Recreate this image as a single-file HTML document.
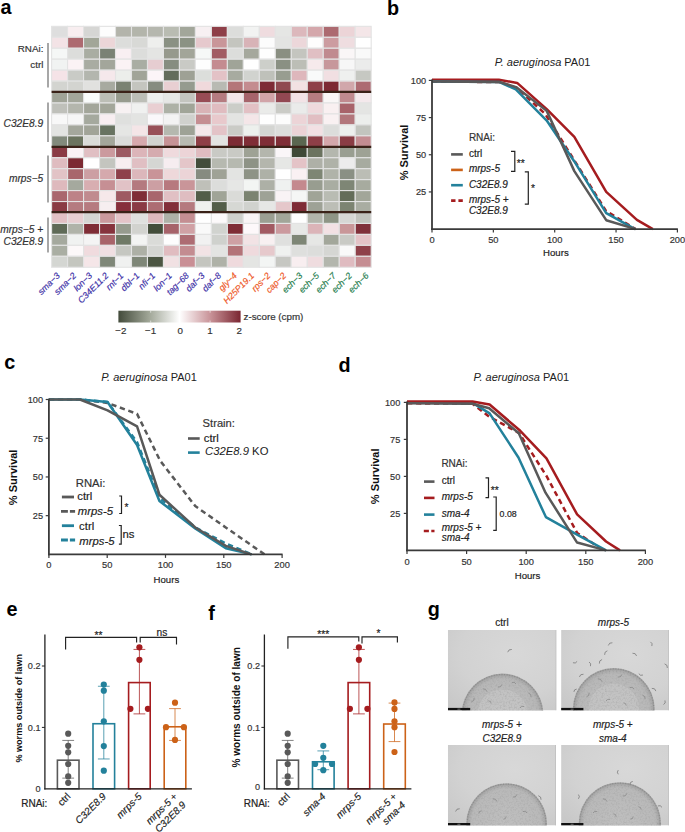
<!DOCTYPE html>
<html><head><meta charset="utf-8"><style>
html,body{margin:0;padding:0;background:#fff;}
svg{display:block;font-family:"Liberation Sans", sans-serif;}
</style></head><body>
<svg width="685" height="832" viewBox="0 0 685 832">
<rect width="685" height="832" fill="#fff"/>
<text x="0.50" y="13.65" font-size="19.8" text-anchor="start" font-weight="bold" fill="#000">a</text>
<text x="386.96" y="14.55" font-size="19.8" text-anchor="start" font-weight="bold" fill="#000">b</text>
<text x="4.35" y="368.90" font-size="19.8" text-anchor="start" font-weight="bold" fill="#000">c</text>
<text x="338.40" y="372.45" font-size="19.8" text-anchor="start" font-weight="bold" fill="#000">d</text>
<text x="6.55" y="616.10" font-size="19.8" text-anchor="start" font-weight="bold" fill="#000">e</text>
<text x="208.15" y="619.75" font-size="19.8" text-anchor="start" font-weight="bold" fill="#000">f</text>
<text x="427.66" y="616.00" font-size="19.8" text-anchor="start" font-weight="bold" fill="#000">g</text>
<g stroke="#e3e3e3" stroke-width="1.1">
<rect x="51.60" y="26.35" width="15.98" height="10.95" fill="#dedede"/>
<rect x="67.58" y="26.35" width="15.98" height="10.95" fill="#f8eef0"/>
<rect x="83.56" y="26.35" width="15.98" height="10.95" fill="#d6d6d4"/>
<rect x="99.54" y="26.35" width="15.98" height="10.95" fill="#fdfdfd"/>
<rect x="115.52" y="26.35" width="15.98" height="10.95" fill="#b3b4ab"/>
<rect x="131.50" y="26.35" width="15.98" height="10.95" fill="#b3b5ab"/>
<rect x="147.48" y="26.35" width="15.98" height="10.95" fill="#b5b7ae"/>
<rect x="163.46" y="26.35" width="15.98" height="10.95" fill="#b9bcb2"/>
<rect x="179.44" y="26.35" width="15.98" height="10.95" fill="#a2a69a"/>
<rect x="195.42" y="26.35" width="15.98" height="10.95" fill="#f7f0f2"/>
<rect x="211.40" y="26.35" width="15.98" height="10.95" fill="#8e3f48"/>
<rect x="227.38" y="26.35" width="15.98" height="10.95" fill="#dcdddb"/>
<rect x="243.36" y="26.35" width="15.98" height="10.95" fill="#f2f3f2"/>
<rect x="259.34" y="26.35" width="15.98" height="10.95" fill="#efdcdf"/>
<rect x="275.32" y="26.35" width="15.98" height="10.95" fill="#e5e6e4"/>
<rect x="291.30" y="26.35" width="15.98" height="10.95" fill="#dcb8bc"/>
<rect x="307.28" y="26.35" width="15.98" height="10.95" fill="#d4a7ab"/>
<rect x="323.26" y="26.35" width="15.98" height="10.95" fill="#ac6a70"/>
<rect x="339.24" y="26.35" width="15.98" height="10.95" fill="#ecd4d7"/>
<rect x="355.22" y="26.35" width="15.98" height="10.95" fill="#f4e6e8"/>
<rect x="51.60" y="37.30" width="15.98" height="10.95" fill="#f3e3e6"/>
<rect x="67.58" y="37.30" width="15.98" height="10.95" fill="#ad6a70"/>
<rect x="83.56" y="37.30" width="15.98" height="10.95" fill="#a2a698"/>
<rect x="99.54" y="37.30" width="15.98" height="10.95" fill="#ecd6d8"/>
<rect x="115.52" y="37.30" width="15.98" height="10.95" fill="#dcdddb"/>
<rect x="131.50" y="37.30" width="15.98" height="10.95" fill="#d8d9d6"/>
<rect x="147.48" y="37.30" width="15.98" height="10.95" fill="#eeefed"/>
<rect x="163.46" y="37.30" width="15.98" height="10.95" fill="#8a9183"/>
<rect x="179.44" y="37.30" width="15.98" height="10.95" fill="#8b9284"/>
<rect x="195.42" y="37.30" width="15.98" height="10.95" fill="#e6c9cd"/>
<rect x="211.40" y="37.30" width="15.98" height="10.95" fill="#c99699"/>
<rect x="227.38" y="37.30" width="15.98" height="10.95" fill="#c4c5bf"/>
<rect x="243.36" y="37.30" width="15.98" height="10.95" fill="#d8b3b7"/>
<rect x="259.34" y="37.30" width="15.98" height="10.95" fill="#fcfcfc"/>
<rect x="275.32" y="37.30" width="15.98" height="10.95" fill="#e3e4e2"/>
<rect x="291.30" y="37.30" width="15.98" height="10.95" fill="#ecd7da"/>
<rect x="307.28" y="37.30" width="15.98" height="10.95" fill="#fefdfd"/>
<rect x="323.26" y="37.30" width="15.98" height="10.95" fill="#cc9ca0"/>
<rect x="339.24" y="37.30" width="15.98" height="10.95" fill="#efdde0"/>
<rect x="355.22" y="37.30" width="15.98" height="10.95" fill="#ffffff"/>
<rect x="51.60" y="48.25" width="15.98" height="10.95" fill="#f5f7f6"/>
<rect x="67.58" y="48.25" width="15.98" height="10.95" fill="#dcdddb"/>
<rect x="83.56" y="48.25" width="15.98" height="10.95" fill="#a9ada2"/>
<rect x="99.54" y="48.25" width="15.98" height="10.95" fill="#7a8274"/>
<rect x="115.52" y="48.25" width="15.98" height="10.95" fill="#f8eff2"/>
<rect x="131.50" y="48.25" width="15.98" height="10.95" fill="#dcdddb"/>
<rect x="147.48" y="48.25" width="15.98" height="10.95" fill="#e4e5e3"/>
<rect x="163.46" y="48.25" width="15.98" height="10.95" fill="#96998c"/>
<rect x="179.44" y="48.25" width="15.98" height="10.95" fill="#a2a599"/>
<rect x="195.42" y="48.25" width="15.98" height="10.95" fill="#f6f8f7"/>
<rect x="211.40" y="48.25" width="15.98" height="10.95" fill="#a25c63"/>
<rect x="227.38" y="48.25" width="15.98" height="10.95" fill="#dcdddb"/>
<rect x="243.36" y="48.25" width="15.98" height="10.95" fill="#a5a89d"/>
<rect x="259.34" y="48.25" width="15.98" height="10.95" fill="#fefefe"/>
<rect x="275.32" y="48.25" width="15.98" height="10.95" fill="#8a8f82"/>
<rect x="291.30" y="48.25" width="15.98" height="10.95" fill="#c4c5bf"/>
<rect x="307.28" y="48.25" width="15.98" height="10.95" fill="#e0bfc3"/>
<rect x="323.26" y="48.25" width="15.98" height="10.95" fill="#c08a8f"/>
<rect x="339.24" y="48.25" width="15.98" height="10.95" fill="#faf6f7"/>
<rect x="355.22" y="48.25" width="15.98" height="10.95" fill="#f9f9f9"/>
<rect x="51.60" y="59.20" width="15.98" height="10.95" fill="#f1f3f2"/>
<rect x="67.58" y="59.20" width="15.98" height="10.95" fill="#fbf3f5"/>
<rect x="83.56" y="59.20" width="15.98" height="10.95" fill="#a9aca2"/>
<rect x="99.54" y="59.20" width="15.98" height="10.95" fill="#a3a69b"/>
<rect x="115.52" y="59.20" width="15.98" height="10.95" fill="#fbf3f5"/>
<rect x="131.50" y="59.20" width="15.98" height="10.95" fill="#a9ada3"/>
<rect x="147.48" y="59.20" width="15.98" height="10.95" fill="#e6cdd1"/>
<rect x="163.46" y="59.20" width="15.98" height="10.95" fill="#868d80"/>
<rect x="179.44" y="59.20" width="15.98" height="10.95" fill="#c9cac5"/>
<rect x="195.42" y="59.20" width="15.98" height="10.95" fill="#fefefe"/>
<rect x="211.40" y="59.20" width="15.98" height="10.95" fill="#c48b90"/>
<rect x="227.38" y="59.20" width="15.98" height="10.95" fill="#a0a498"/>
<rect x="243.36" y="59.20" width="15.98" height="10.95" fill="#ffffff"/>
<rect x="259.34" y="59.20" width="15.98" height="10.95" fill="#cdcfca"/>
<rect x="275.32" y="59.20" width="15.98" height="10.95" fill="#8a9083"/>
<rect x="291.30" y="59.20" width="15.98" height="10.95" fill="#bcbeb6"/>
<rect x="307.28" y="59.20" width="15.98" height="10.95" fill="#f6eaec"/>
<rect x="323.26" y="59.20" width="15.98" height="10.95" fill="#c7979b"/>
<rect x="339.24" y="59.20" width="15.98" height="10.95" fill="#f7f7f7"/>
<rect x="355.22" y="59.20" width="15.98" height="10.95" fill="#ebeceb"/>
<rect x="51.60" y="70.15" width="15.98" height="10.95" fill="#f5e3e7"/>
<rect x="67.58" y="70.15" width="15.98" height="10.95" fill="#c9cbc6"/>
<rect x="83.56" y="70.15" width="15.98" height="10.95" fill="#b3b6ae"/>
<rect x="99.54" y="70.15" width="15.98" height="10.95" fill="#f5e8eb"/>
<rect x="115.52" y="70.15" width="15.98" height="10.95" fill="#eceeeb"/>
<rect x="131.50" y="70.15" width="15.98" height="10.95" fill="#a1a498"/>
<rect x="147.48" y="70.15" width="15.98" height="10.95" fill="#fcf5f8"/>
<rect x="163.46" y="70.15" width="15.98" height="10.95" fill="#636c5b"/>
<rect x="179.44" y="70.15" width="15.98" height="10.95" fill="#9ea195"/>
<rect x="195.42" y="70.15" width="15.98" height="10.95" fill="#dcdedb"/>
<rect x="211.40" y="70.15" width="15.98" height="10.95" fill="#e3c2c6"/>
<rect x="227.38" y="70.15" width="15.98" height="10.95" fill="#a7aba0"/>
<rect x="243.36" y="70.15" width="15.98" height="10.95" fill="#d1d3cf"/>
<rect x="259.34" y="70.15" width="15.98" height="10.95" fill="#bfc1ba"/>
<rect x="275.32" y="70.15" width="15.98" height="10.95" fill="#989d90"/>
<rect x="291.30" y="70.15" width="15.98" height="10.95" fill="#deb7bc"/>
<rect x="307.28" y="70.15" width="15.98" height="10.95" fill="#f9fafa"/>
<rect x="323.26" y="70.15" width="15.98" height="10.95" fill="#f1dfe2"/>
<rect x="339.24" y="70.15" width="15.98" height="10.95" fill="#eff0ef"/>
<rect x="355.22" y="70.15" width="15.98" height="10.95" fill="#c6c8c2"/>
<rect x="51.60" y="81.10" width="15.98" height="10.95" fill="#d3d4d0"/>
<rect x="67.58" y="81.10" width="15.98" height="10.95" fill="#d3d4d0"/>
<rect x="83.56" y="81.10" width="15.98" height="10.95" fill="#e1e1df"/>
<rect x="99.54" y="81.10" width="15.98" height="10.95" fill="#a7aaa0"/>
<rect x="115.52" y="81.10" width="15.98" height="10.95" fill="#7b8273"/>
<rect x="131.50" y="81.10" width="15.98" height="10.95" fill="#c4c5bf"/>
<rect x="147.48" y="81.10" width="15.98" height="10.95" fill="#868c80"/>
<rect x="163.46" y="81.10" width="15.98" height="10.95" fill="#e8cfd2"/>
<rect x="179.44" y="81.10" width="15.98" height="10.95" fill="#959b8f"/>
<rect x="195.42" y="81.10" width="15.98" height="10.95" fill="#f0d9dc"/>
<rect x="211.40" y="81.10" width="15.98" height="10.95" fill="#b8bab3"/>
<rect x="227.38" y="81.10" width="15.98" height="10.95" fill="#b47679"/>
<rect x="243.36" y="81.10" width="15.98" height="10.95" fill="#c48c90"/>
<rect x="259.34" y="81.10" width="15.98" height="10.95" fill="#7e2b36"/>
<rect x="275.32" y="81.10" width="15.98" height="10.95" fill="#904a51"/>
<rect x="291.30" y="81.10" width="15.98" height="10.95" fill="#f2e1e3"/>
<rect x="307.28" y="81.10" width="15.98" height="10.95" fill="#8e3f47"/>
<rect x="323.26" y="81.10" width="15.98" height="10.95" fill="#7c2a33"/>
<rect x="339.24" y="81.10" width="15.98" height="10.95" fill="#d1a7ab"/>
<rect x="355.22" y="81.10" width="15.98" height="10.95" fill="#ad6b72"/>
<rect x="51.60" y="92.05" width="15.98" height="10.95" fill="#a0a397"/>
<rect x="67.58" y="92.05" width="15.98" height="10.95" fill="#a3a69a"/>
<rect x="83.56" y="92.05" width="15.98" height="10.95" fill="#fafcfb"/>
<rect x="99.54" y="92.05" width="15.98" height="10.95" fill="#bcbeb6"/>
<rect x="115.52" y="92.05" width="15.98" height="10.95" fill="#979b8e"/>
<rect x="131.50" y="92.05" width="15.98" height="10.95" fill="#bcbeb7"/>
<rect x="147.48" y="92.05" width="15.98" height="10.95" fill="#eeefee"/>
<rect x="163.46" y="92.05" width="15.98" height="10.95" fill="#e6e7e5"/>
<rect x="179.44" y="92.05" width="15.98" height="10.95" fill="#c4c5bf"/>
<rect x="195.42" y="92.05" width="15.98" height="10.95" fill="#984c55"/>
<rect x="211.40" y="92.05" width="15.98" height="10.95" fill="#b57b80"/>
<rect x="227.38" y="92.05" width="15.98" height="10.95" fill="#f3e7e9"/>
<rect x="243.36" y="92.05" width="15.98" height="10.95" fill="#a6646b"/>
<rect x="259.34" y="92.05" width="15.98" height="10.95" fill="#d1a4a8"/>
<rect x="275.32" y="92.05" width="15.98" height="10.95" fill="#924852"/>
<rect x="291.30" y="92.05" width="15.98" height="10.95" fill="#f2e3e6"/>
<rect x="307.28" y="92.05" width="15.98" height="10.95" fill="#b57c80"/>
<rect x="323.26" y="92.05" width="15.98" height="10.95" fill="#faf7f7"/>
<rect x="339.24" y="92.05" width="15.98" height="10.95" fill="#c08a8f"/>
<rect x="355.22" y="92.05" width="15.98" height="10.95" fill="#f4e9ec"/>
<rect x="51.60" y="103.00" width="15.98" height="10.95" fill="#bfc0ba"/>
<rect x="67.58" y="103.00" width="15.98" height="10.95" fill="#b4b6ad"/>
<rect x="83.56" y="103.00" width="15.98" height="10.95" fill="#a3a69a"/>
<rect x="99.54" y="103.00" width="15.98" height="10.95" fill="#a3a69a"/>
<rect x="115.52" y="103.00" width="15.98" height="10.95" fill="#f7f1f2"/>
<rect x="131.50" y="103.00" width="15.98" height="10.95" fill="#f0f1f0"/>
<rect x="147.48" y="103.00" width="15.98" height="10.95" fill="#e9cfd2"/>
<rect x="163.46" y="103.00" width="15.98" height="10.95" fill="#adb1a6"/>
<rect x="179.44" y="103.00" width="15.98" height="10.95" fill="#a1a598"/>
<rect x="195.42" y="103.00" width="15.98" height="10.95" fill="#d9b3b6"/>
<rect x="211.40" y="103.00" width="15.98" height="10.95" fill="#e0bcc0"/>
<rect x="227.38" y="103.00" width="15.98" height="10.95" fill="#cbcdc8"/>
<rect x="243.36" y="103.00" width="15.98" height="10.95" fill="#e2c0c4"/>
<rect x="259.34" y="103.00" width="15.98" height="10.95" fill="#eaebe9"/>
<rect x="275.32" y="103.00" width="15.98" height="10.95" fill="#cacbc6"/>
<rect x="291.30" y="103.00" width="15.98" height="10.95" fill="#eaebea"/>
<rect x="307.28" y="103.00" width="15.98" height="10.95" fill="#efd9dc"/>
<rect x="323.26" y="103.00" width="15.98" height="10.95" fill="#f9f0f1"/>
<rect x="339.24" y="103.00" width="15.98" height="10.95" fill="#a8636a"/>
<rect x="355.22" y="103.00" width="15.98" height="10.95" fill="#e4e5e3"/>
<rect x="51.60" y="113.95" width="15.98" height="10.95" fill="#f8f8f8"/>
<rect x="67.58" y="113.95" width="15.98" height="10.95" fill="#f6f6f6"/>
<rect x="83.56" y="113.95" width="15.98" height="10.95" fill="#a5a99e"/>
<rect x="99.54" y="113.95" width="15.98" height="10.95" fill="#f8eef1"/>
<rect x="115.52" y="113.95" width="15.98" height="10.95" fill="#dfe0de"/>
<rect x="131.50" y="113.95" width="15.98" height="10.95" fill="#e3e4e2"/>
<rect x="147.48" y="113.95" width="15.98" height="10.95" fill="#faf8fa"/>
<rect x="163.46" y="113.95" width="15.98" height="10.95" fill="#f3f3f3"/>
<rect x="179.44" y="113.95" width="15.98" height="10.95" fill="#d0d1cd"/>
<rect x="195.42" y="113.95" width="15.98" height="10.95" fill="#c58e92"/>
<rect x="211.40" y="113.95" width="15.98" height="10.95" fill="#e8c9cc"/>
<rect x="227.38" y="113.95" width="15.98" height="10.95" fill="#e3e4e2"/>
<rect x="243.36" y="113.95" width="15.98" height="10.95" fill="#f4e6e8"/>
<rect x="259.34" y="113.95" width="15.98" height="10.95" fill="#fefefe"/>
<rect x="275.32" y="113.95" width="15.98" height="10.95" fill="#fcfcfc"/>
<rect x="291.30" y="113.95" width="15.98" height="10.95" fill="#ecd4d7"/>
<rect x="307.28" y="113.95" width="15.98" height="10.95" fill="#e1bec2"/>
<rect x="323.26" y="113.95" width="15.98" height="10.95" fill="#f9f1f2"/>
<rect x="339.24" y="113.95" width="15.98" height="10.95" fill="#b2767b"/>
<rect x="355.22" y="113.95" width="15.98" height="10.95" fill="#eceeec"/>
<rect x="51.60" y="124.90" width="15.98" height="10.95" fill="#e3e4e2"/>
<rect x="67.58" y="124.90" width="15.98" height="10.95" fill="#a4a79c"/>
<rect x="83.56" y="124.90" width="15.98" height="10.95" fill="#a1a498"/>
<rect x="99.54" y="124.90" width="15.98" height="10.95" fill="#687361"/>
<rect x="115.52" y="124.90" width="15.98" height="10.95" fill="#e5e6e4"/>
<rect x="131.50" y="124.90" width="15.98" height="10.95" fill="#f4e5e7"/>
<rect x="147.48" y="124.90" width="15.98" height="10.95" fill="#985058"/>
<rect x="163.46" y="124.90" width="15.98" height="10.95" fill="#b5b8af"/>
<rect x="179.44" y="124.90" width="15.98" height="10.95" fill="#9ea296"/>
<rect x="195.42" y="124.90" width="15.98" height="10.95" fill="#f5e8ea"/>
<rect x="211.40" y="124.90" width="15.98" height="10.95" fill="#e3c3c7"/>
<rect x="227.38" y="124.90" width="15.98" height="10.95" fill="#cacbc6"/>
<rect x="243.36" y="124.90" width="15.98" height="10.95" fill="#edf0ed"/>
<rect x="259.34" y="124.90" width="15.98" height="10.95" fill="#d4d5d2"/>
<rect x="275.32" y="124.90" width="15.98" height="10.95" fill="#dcdddb"/>
<rect x="291.30" y="124.90" width="15.98" height="10.95" fill="#ebd3d6"/>
<rect x="307.28" y="124.90" width="15.98" height="10.95" fill="#f2e0e3"/>
<rect x="323.26" y="124.90" width="15.98" height="10.95" fill="#dcdddb"/>
<rect x="339.24" y="124.90" width="15.98" height="10.95" fill="#edefed"/>
<rect x="355.22" y="124.90" width="15.98" height="10.95" fill="#c2c4be"/>
<rect x="51.60" y="135.85" width="15.98" height="10.95" fill="#828a7c"/>
<rect x="67.58" y="135.85" width="15.98" height="10.95" fill="#6b745f"/>
<rect x="83.56" y="135.85" width="15.98" height="10.95" fill="#dadcd8"/>
<rect x="99.54" y="135.85" width="15.98" height="10.95" fill="#a3a69a"/>
<rect x="115.52" y="135.85" width="15.98" height="10.95" fill="#dbdcda"/>
<rect x="131.50" y="135.85" width="15.98" height="10.95" fill="#d6a9ad"/>
<rect x="147.48" y="135.85" width="15.98" height="10.95" fill="#d1d3cf"/>
<rect x="163.46" y="135.85" width="15.98" height="10.95" fill="#c69396"/>
<rect x="179.44" y="135.85" width="15.98" height="10.95" fill="#b8bab1"/>
<rect x="195.42" y="135.85" width="15.98" height="10.95" fill="#8e3f46"/>
<rect x="211.40" y="135.85" width="15.98" height="10.95" fill="#e3e4e2"/>
<rect x="227.38" y="135.85" width="15.98" height="10.95" fill="#7c2b34"/>
<rect x="243.36" y="135.85" width="15.98" height="10.95" fill="#7f2d36"/>
<rect x="259.34" y="135.85" width="15.98" height="10.95" fill="#7f2d36"/>
<rect x="275.32" y="135.85" width="15.98" height="10.95" fill="#7f2d36"/>
<rect x="291.30" y="135.85" width="15.98" height="10.95" fill="#5a6650"/>
<rect x="307.28" y="135.85" width="15.98" height="10.95" fill="#8e3f47"/>
<rect x="323.26" y="135.85" width="15.98" height="10.95" fill="#d4a7ab"/>
<rect x="339.24" y="135.85" width="15.98" height="10.95" fill="#8a3c44"/>
<rect x="355.22" y="135.85" width="15.98" height="10.95" fill="#c38c91"/>
<rect x="51.60" y="146.80" width="15.98" height="10.95" fill="#8a3a44"/>
<rect x="67.58" y="146.80" width="15.98" height="10.95" fill="#faf2f5"/>
<rect x="83.56" y="146.80" width="15.98" height="10.95" fill="#e0bfc3"/>
<rect x="99.54" y="146.80" width="15.98" height="10.95" fill="#cb9a9e"/>
<rect x="115.52" y="146.80" width="15.98" height="10.95" fill="#9c5a62"/>
<rect x="131.50" y="146.80" width="15.98" height="10.95" fill="#dcb5b9"/>
<rect x="147.48" y="146.80" width="15.98" height="10.95" fill="#d5abaf"/>
<rect x="163.46" y="146.80" width="15.98" height="10.95" fill="#efdadd"/>
<rect x="179.44" y="146.80" width="15.98" height="10.95" fill="#ecd4d7"/>
<rect x="195.42" y="146.80" width="15.98" height="10.95" fill="#dfbcc0"/>
<rect x="211.40" y="146.80" width="15.98" height="10.95" fill="#c9cac5"/>
<rect x="227.38" y="146.80" width="15.98" height="10.95" fill="#c9cac5"/>
<rect x="243.36" y="146.80" width="15.98" height="10.95" fill="#9ea295"/>
<rect x="259.34" y="146.80" width="15.98" height="10.95" fill="#b4b6ad"/>
<rect x="275.32" y="146.80" width="15.98" height="10.95" fill="#faf6f8"/>
<rect x="291.30" y="146.80" width="15.98" height="10.95" fill="#3f4937"/>
<rect x="307.28" y="146.80" width="15.98" height="10.95" fill="#6b735f"/>
<rect x="323.26" y="146.80" width="15.98" height="10.95" fill="#b4b7ae"/>
<rect x="339.24" y="146.80" width="15.98" height="10.95" fill="#999e91"/>
<rect x="355.22" y="146.80" width="15.98" height="10.95" fill="#9ea295"/>
<rect x="51.60" y="157.75" width="15.98" height="10.95" fill="#dfbcc0"/>
<rect x="67.58" y="157.75" width="15.98" height="10.95" fill="#7c2a33"/>
<rect x="83.56" y="157.75" width="15.98" height="10.95" fill="#ffffff"/>
<rect x="99.54" y="157.75" width="15.98" height="10.95" fill="#c4c5bf"/>
<rect x="115.52" y="157.75" width="15.98" height="10.95" fill="#f8eef0"/>
<rect x="131.50" y="157.75" width="15.98" height="10.95" fill="#e0bfc3"/>
<rect x="147.48" y="157.75" width="15.98" height="10.95" fill="#d5d6d3"/>
<rect x="163.46" y="157.75" width="15.98" height="10.95" fill="#f6edf0"/>
<rect x="179.44" y="157.75" width="15.98" height="10.95" fill="#e4c6c9"/>
<rect x="195.42" y="157.75" width="15.98" height="10.95" fill="#434d3b"/>
<rect x="211.40" y="157.75" width="15.98" height="10.95" fill="#b6b9b0"/>
<rect x="227.38" y="157.75" width="15.98" height="10.95" fill="#b6b9b0"/>
<rect x="243.36" y="157.75" width="15.98" height="10.95" fill="#8e9386"/>
<rect x="259.34" y="157.75" width="15.98" height="10.95" fill="#b4b6ad"/>
<rect x="275.32" y="157.75" width="15.98" height="10.95" fill="#e6e7e5"/>
<rect x="291.30" y="157.75" width="15.98" height="10.95" fill="#e4c3c7"/>
<rect x="307.28" y="157.75" width="15.98" height="10.95" fill="#aeb0a7"/>
<rect x="323.26" y="157.75" width="15.98" height="10.95" fill="#afb2a8"/>
<rect x="339.24" y="157.75" width="15.98" height="10.95" fill="#ececec"/>
<rect x="355.22" y="157.75" width="15.98" height="10.95" fill="#a7aba0"/>
<rect x="51.60" y="168.70" width="15.98" height="10.95" fill="#e2c3c6"/>
<rect x="67.58" y="168.70" width="15.98" height="10.95" fill="#a8666c"/>
<rect x="83.56" y="168.70" width="15.98" height="10.95" fill="#cc9fa3"/>
<rect x="99.54" y="168.70" width="15.98" height="10.95" fill="#d5a9ad"/>
<rect x="115.52" y="168.70" width="15.98" height="10.95" fill="#8e404a"/>
<rect x="131.50" y="168.70" width="15.98" height="10.95" fill="#dcb7bb"/>
<rect x="147.48" y="168.70" width="15.98" height="10.95" fill="#c99498"/>
<rect x="163.46" y="168.70" width="15.98" height="10.95" fill="#eed8da"/>
<rect x="179.44" y="168.70" width="15.98" height="10.95" fill="#ecd4d7"/>
<rect x="195.42" y="168.70" width="15.98" height="10.95" fill="#868b80"/>
<rect x="211.40" y="168.70" width="15.98" height="10.95" fill="#9fa296"/>
<rect x="227.38" y="168.70" width="15.98" height="10.95" fill="#e3e4e2"/>
<rect x="243.36" y="168.70" width="15.98" height="10.95" fill="#8e9386"/>
<rect x="259.34" y="168.70" width="15.98" height="10.95" fill="#aeb1a7"/>
<rect x="275.32" y="168.70" width="15.98" height="10.95" fill="#ffffff"/>
<rect x="291.30" y="168.70" width="15.98" height="10.95" fill="#faf1f3"/>
<rect x="307.28" y="168.70" width="15.98" height="10.95" fill="#7e8674"/>
<rect x="323.26" y="168.70" width="15.98" height="10.95" fill="#b0b3a9"/>
<rect x="339.24" y="168.70" width="15.98" height="10.95" fill="#8a9084"/>
<rect x="355.22" y="168.70" width="15.98" height="10.95" fill="#bbbdb5"/>
<rect x="51.60" y="179.65" width="15.98" height="10.95" fill="#deb9bd"/>
<rect x="67.58" y="179.65" width="15.98" height="10.95" fill="#a5a99e"/>
<rect x="83.56" y="179.65" width="15.98" height="10.95" fill="#d8aeb1"/>
<rect x="99.54" y="179.65" width="15.98" height="10.95" fill="#c68f94"/>
<rect x="115.52" y="179.65" width="15.98" height="10.95" fill="#e1c2c6"/>
<rect x="131.50" y="179.65" width="15.98" height="10.95" fill="#b47a7f"/>
<rect x="147.48" y="179.65" width="15.98" height="10.95" fill="#cc9fa3"/>
<rect x="163.46" y="179.65" width="15.98" height="10.95" fill="#b7797e"/>
<rect x="179.44" y="179.65" width="15.98" height="10.95" fill="#c99599"/>
<rect x="195.42" y="179.65" width="15.98" height="10.95" fill="#bfc0b9"/>
<rect x="211.40" y="179.65" width="15.98" height="10.95" fill="#dcdddb"/>
<rect x="227.38" y="179.65" width="15.98" height="10.95" fill="#e6e7e5"/>
<rect x="243.36" y="179.65" width="15.98" height="10.95" fill="#f3f5f3"/>
<rect x="259.34" y="179.65" width="15.98" height="10.95" fill="#adb0a6"/>
<rect x="275.32" y="179.65" width="15.98" height="10.95" fill="#eff1f0"/>
<rect x="291.30" y="179.65" width="15.98" height="10.95" fill="#c4898e"/>
<rect x="307.28" y="179.65" width="15.98" height="10.95" fill="#989d90"/>
<rect x="323.26" y="179.65" width="15.98" height="10.95" fill="#a9ada2"/>
<rect x="339.24" y="179.65" width="15.98" height="10.95" fill="#7e8675"/>
<rect x="355.22" y="179.65" width="15.98" height="10.95" fill="#a7ab9f"/>
<rect x="51.60" y="190.60" width="15.98" height="10.95" fill="#aa676e"/>
<rect x="67.58" y="190.60" width="15.98" height="10.95" fill="#bd8287"/>
<rect x="83.56" y="190.60" width="15.98" height="10.95" fill="#c08b8f"/>
<rect x="99.54" y="190.60" width="15.98" height="10.95" fill="#f6e8ea"/>
<rect x="115.52" y="190.60" width="15.98" height="10.95" fill="#9e5a62"/>
<rect x="131.50" y="190.60" width="15.98" height="10.95" fill="#7f2e37"/>
<rect x="147.48" y="190.60" width="15.98" height="10.95" fill="#a8666d"/>
<rect x="163.46" y="190.60" width="15.98" height="10.95" fill="#e1c0c4"/>
<rect x="179.44" y="190.60" width="15.98" height="10.95" fill="#dfbdc1"/>
<rect x="195.42" y="190.60" width="15.98" height="10.95" fill="#525d49"/>
<rect x="211.40" y="190.60" width="15.98" height="10.95" fill="#a0a497"/>
<rect x="227.38" y="190.60" width="15.98" height="10.95" fill="#dadbd8"/>
<rect x="243.36" y="190.60" width="15.98" height="10.95" fill="#7b8371"/>
<rect x="259.34" y="190.60" width="15.98" height="10.95" fill="#9ea296"/>
<rect x="275.32" y="190.60" width="15.98" height="10.95" fill="#f9f3f5"/>
<rect x="291.30" y="190.60" width="15.98" height="10.95" fill="#f5f6f5"/>
<rect x="307.28" y="190.60" width="15.98" height="10.95" fill="#a0a497"/>
<rect x="323.26" y="190.60" width="15.98" height="10.95" fill="#b9bcb3"/>
<rect x="339.24" y="190.60" width="15.98" height="10.95" fill="#646d59"/>
<rect x="355.22" y="190.60" width="15.98" height="10.95" fill="#a2a699"/>
<rect x="51.60" y="201.55" width="15.98" height="10.95" fill="#8a3b44"/>
<rect x="67.58" y="201.55" width="15.98" height="10.95" fill="#b57b80"/>
<rect x="83.56" y="201.55" width="15.98" height="10.95" fill="#b67b80"/>
<rect x="99.54" y="201.55" width="15.98" height="10.95" fill="#f6eef0"/>
<rect x="115.52" y="201.55" width="15.98" height="10.95" fill="#862f3b"/>
<rect x="131.50" y="201.55" width="15.98" height="10.95" fill="#8a3a44"/>
<rect x="147.48" y="201.55" width="15.98" height="10.95" fill="#ad6d73"/>
<rect x="163.46" y="201.55" width="15.98" height="10.95" fill="#822f39"/>
<rect x="179.44" y="201.55" width="15.98" height="10.95" fill="#b57a7f"/>
<rect x="195.42" y="201.55" width="15.98" height="10.95" fill="#eff1ee"/>
<rect x="211.40" y="201.55" width="15.98" height="10.95" fill="#525d49"/>
<rect x="227.38" y="201.55" width="15.98" height="10.95" fill="#d6d8d4"/>
<rect x="243.36" y="201.55" width="15.98" height="10.95" fill="#d0d2ce"/>
<rect x="259.34" y="201.55" width="15.98" height="10.95" fill="#e6e7e5"/>
<rect x="275.32" y="201.55" width="15.98" height="10.95" fill="#e5c7ca"/>
<rect x="291.30" y="201.55" width="15.98" height="10.95" fill="#7e2b36"/>
<rect x="307.28" y="201.55" width="15.98" height="10.95" fill="#9ea296"/>
<rect x="323.26" y="201.55" width="15.98" height="10.95" fill="#bcbeb6"/>
<rect x="339.24" y="201.55" width="15.98" height="10.95" fill="#7c8472"/>
<rect x="355.22" y="201.55" width="15.98" height="10.95" fill="#a9ada2"/>
<rect x="51.60" y="212.50" width="15.98" height="10.95" fill="#e2c0c4"/>
<rect x="67.58" y="212.50" width="15.98" height="10.95" fill="#e8cfd2"/>
<rect x="83.56" y="212.50" width="15.98" height="10.95" fill="#d5d6d3"/>
<rect x="99.54" y="212.50" width="15.98" height="10.95" fill="#ca999d"/>
<rect x="115.52" y="212.50" width="15.98" height="10.95" fill="#e4c4c8"/>
<rect x="131.50" y="212.50" width="15.98" height="10.95" fill="#dfe0de"/>
<rect x="147.48" y="212.50" width="15.98" height="10.95" fill="#deb8bc"/>
<rect x="163.46" y="212.50" width="15.98" height="10.95" fill="#aeb1a7"/>
<rect x="179.44" y="212.50" width="15.98" height="10.95" fill="#c48e92"/>
<rect x="195.42" y="212.50" width="15.98" height="10.95" fill="#ffffff"/>
<rect x="211.40" y="212.50" width="15.98" height="10.95" fill="#fcf9fa"/>
<rect x="227.38" y="212.50" width="15.98" height="10.95" fill="#cfd0cc"/>
<rect x="243.36" y="212.50" width="15.98" height="10.95" fill="#f9f4f5"/>
<rect x="259.34" y="212.50" width="15.98" height="10.95" fill="#9b9f92"/>
<rect x="275.32" y="212.50" width="15.98" height="10.95" fill="#a2a699"/>
<rect x="291.30" y="212.50" width="15.98" height="10.95" fill="#fefefe"/>
<rect x="307.28" y="212.50" width="15.98" height="10.95" fill="#b2b5ab"/>
<rect x="323.26" y="212.50" width="15.98" height="10.95" fill="#8f9586"/>
<rect x="339.24" y="212.50" width="15.98" height="10.95" fill="#d6d7d4"/>
<rect x="355.22" y="212.50" width="15.98" height="10.95" fill="#c2c4be"/>
<rect x="51.60" y="223.45" width="15.98" height="10.95" fill="#5f6a57"/>
<rect x="67.58" y="223.45" width="15.98" height="10.95" fill="#b0b3a9"/>
<rect x="83.56" y="223.45" width="15.98" height="10.95" fill="#7f2d36"/>
<rect x="99.54" y="223.45" width="15.98" height="10.95" fill="#86333d"/>
<rect x="115.52" y="223.45" width="15.98" height="10.95" fill="#969b8e"/>
<rect x="131.50" y="223.45" width="15.98" height="10.95" fill="#d2d3cf"/>
<rect x="147.48" y="223.45" width="15.98" height="10.95" fill="#434d3a"/>
<rect x="163.46" y="223.45" width="15.98" height="10.95" fill="#a6636a"/>
<rect x="179.44" y="223.45" width="15.98" height="10.95" fill="#d0a1a5"/>
<rect x="195.42" y="223.45" width="15.98" height="10.95" fill="#f9f9f9"/>
<rect x="211.40" y="223.45" width="15.98" height="10.95" fill="#d1d3cf"/>
<rect x="227.38" y="223.45" width="15.98" height="10.95" fill="#7f2c35"/>
<rect x="243.36" y="223.45" width="15.98" height="10.95" fill="#fdf8fa"/>
<rect x="259.34" y="223.45" width="15.98" height="10.95" fill="#a25a62"/>
<rect x="275.32" y="223.45" width="15.98" height="10.95" fill="#cb9a9e"/>
<rect x="291.30" y="223.45" width="15.98" height="10.95" fill="#e7e8e6"/>
<rect x="307.28" y="223.45" width="15.98" height="10.95" fill="#dbb4b8"/>
<rect x="323.26" y="223.45" width="15.98" height="10.95" fill="#f3e1e4"/>
<rect x="339.24" y="223.45" width="15.98" height="10.95" fill="#c99799"/>
<rect x="355.22" y="223.45" width="15.98" height="10.95" fill="#80303a"/>
<rect x="51.60" y="234.40" width="15.98" height="10.95" fill="#a5a99e"/>
<rect x="67.58" y="234.40" width="15.98" height="10.95" fill="#f0f2f1"/>
<rect x="83.56" y="234.40" width="15.98" height="10.95" fill="#f4f4f4"/>
<rect x="99.54" y="234.40" width="15.98" height="10.95" fill="#a86369"/>
<rect x="115.52" y="234.40" width="15.98" height="10.95" fill="#6f7a66"/>
<rect x="131.50" y="234.40" width="15.98" height="10.95" fill="#f3f4f3"/>
<rect x="147.48" y="234.40" width="15.98" height="10.95" fill="#dadbd8"/>
<rect x="163.46" y="234.40" width="15.98" height="10.95" fill="#fdfdfd"/>
<rect x="179.44" y="234.40" width="15.98" height="10.95" fill="#ad6c73"/>
<rect x="195.42" y="234.40" width="15.98" height="10.95" fill="#f1f1f1"/>
<rect x="211.40" y="234.40" width="15.98" height="10.95" fill="#cfd1cd"/>
<rect x="227.38" y="234.40" width="15.98" height="10.95" fill="#cea0a4"/>
<rect x="243.36" y="234.40" width="15.98" height="10.95" fill="#f2e3e5"/>
<rect x="259.34" y="234.40" width="15.98" height="10.95" fill="#f8f0f1"/>
<rect x="275.32" y="234.40" width="15.98" height="10.95" fill="#dfe0de"/>
<rect x="291.30" y="234.40" width="15.98" height="10.95" fill="#7e8676"/>
<rect x="307.28" y="234.40" width="15.98" height="10.95" fill="#e6e7e5"/>
<rect x="323.26" y="234.40" width="15.98" height="10.95" fill="#a3a79b"/>
<rect x="339.24" y="234.40" width="15.98" height="10.95" fill="#c9cac5"/>
<rect x="355.22" y="234.40" width="15.98" height="10.95" fill="#e4c3c7"/>
<rect x="51.60" y="245.35" width="15.98" height="10.95" fill="#aaaea3"/>
<rect x="67.58" y="245.35" width="15.98" height="10.95" fill="#fcf8f9"/>
<rect x="83.56" y="245.35" width="15.98" height="10.95" fill="#f0dbde"/>
<rect x="99.54" y="245.35" width="15.98" height="10.95" fill="#f0dfe2"/>
<rect x="115.52" y="245.35" width="15.98" height="10.95" fill="#c5c7c1"/>
<rect x="131.50" y="245.35" width="15.98" height="10.95" fill="#adb0a6"/>
<rect x="147.48" y="245.35" width="15.98" height="10.95" fill="#d4d5d2"/>
<rect x="163.46" y="245.35" width="15.98" height="10.95" fill="#e0bcc0"/>
<rect x="179.44" y="245.35" width="15.98" height="10.95" fill="#c38c91"/>
<rect x="195.42" y="245.35" width="15.98" height="10.95" fill="#f2e3e5"/>
<rect x="211.40" y="245.35" width="15.98" height="10.95" fill="#e3e4e2"/>
<rect x="227.38" y="245.35" width="15.98" height="10.95" fill="#b37378"/>
<rect x="243.36" y="245.35" width="15.98" height="10.95" fill="#efdadd"/>
<rect x="259.34" y="245.35" width="15.98" height="10.95" fill="#e6c9cc"/>
<rect x="275.32" y="245.35" width="15.98" height="10.95" fill="#eff1ef"/>
<rect x="291.30" y="245.35" width="15.98" height="10.95" fill="#dedfdd"/>
<rect x="307.28" y="245.35" width="15.98" height="10.95" fill="#dcdddb"/>
<rect x="323.26" y="245.35" width="15.98" height="10.95" fill="#d5d6d3"/>
<rect x="339.24" y="245.35" width="15.98" height="10.95" fill="#f9f9f9"/>
<rect x="355.22" y="245.35" width="15.98" height="10.95" fill="#8e4049"/>
<rect x="51.60" y="256.30" width="15.98" height="10.95" fill="#d4d6d2"/>
<rect x="67.58" y="256.30" width="15.98" height="10.95" fill="#c4c6bf"/>
<rect x="83.56" y="256.30" width="15.98" height="10.95" fill="#f5e6e8"/>
<rect x="99.54" y="256.30" width="15.98" height="10.95" fill="#7f8778"/>
<rect x="115.52" y="256.30" width="15.98" height="10.95" fill="#f0f1f0"/>
<rect x="131.50" y="256.30" width="15.98" height="10.95" fill="#7f8778"/>
<rect x="147.48" y="256.30" width="15.98" height="10.95" fill="#4c5643"/>
<rect x="163.46" y="256.30" width="15.98" height="10.95" fill="#f1e1e3"/>
<rect x="179.44" y="256.30" width="15.98" height="10.95" fill="#c98f95"/>
<rect x="195.42" y="256.30" width="15.98" height="10.95" fill="#c4c5bf"/>
<rect x="211.40" y="256.30" width="15.98" height="10.95" fill="#afb2a8"/>
<rect x="227.38" y="256.30" width="15.98" height="10.95" fill="#efdadd"/>
<rect x="243.36" y="256.30" width="15.98" height="10.95" fill="#e4e5e3"/>
<rect x="259.34" y="256.30" width="15.98" height="10.95" fill="#f3f5f4"/>
<rect x="275.32" y="256.30" width="15.98" height="10.95" fill="#c6c7c2"/>
<rect x="291.30" y="256.30" width="15.98" height="10.95" fill="#f8eef0"/>
<rect x="307.28" y="256.30" width="15.98" height="10.95" fill="#efdcdf"/>
<rect x="323.26" y="256.30" width="15.98" height="10.95" fill="#b3b6ad"/>
<rect x="339.24" y="256.30" width="15.98" height="10.95" fill="#dfbbc0"/>
<rect x="355.22" y="256.30" width="15.98" height="10.95" fill="#c58d92"/>
</g>
<line x1="51.60" y1="91.95" x2="371.20" y2="91.95" stroke="#3a2218" stroke-width="2.2"/>
<line x1="51.60" y1="146.85" x2="371.20" y2="146.85" stroke="#3a2218" stroke-width="2.2"/>
<line x1="51.60" y1="212.10" x2="371.20" y2="212.10" stroke="#3a2218" stroke-width="2.2"/>
<text x="43.40" y="51.50" font-size="9.8" text-anchor="end" fill="#333" stroke="#333" stroke-width="0.18">RNAi:</text>
<text x="43.40" y="67.80" font-size="9.8" text-anchor="end" fill="#333" stroke="#333" stroke-width="0.18">ctrl</text>
<line x1="48.00" y1="43.10" x2="48.00" y2="87.40" stroke="#8a8a8a" stroke-width="1.5"/>
<text x="43.20" y="127.30" font-size="10.2" text-anchor="end" font-style="italic" fill="#333" stroke="#333" stroke-width="0.18">C32E8.9</text>
<line x1="48.00" y1="102.50" x2="48.00" y2="142.00" stroke="#8a8a8a" stroke-width="1.5"/>
<text x="43.20" y="182.30" font-size="10.2" text-anchor="end" font-style="italic" fill="#333" stroke="#333" stroke-width="0.18">mrps−5</text>
<line x1="48.00" y1="155.40" x2="48.00" y2="202.50" stroke="#8a8a8a" stroke-width="1.5"/>
<text x="43.20" y="233.30" font-size="10.2" text-anchor="end" font-style="italic" fill="#333" stroke="#333" stroke-width="0.18">mrps−5 +</text>
<text x="43.20" y="245.20" font-size="10.2" text-anchor="end" font-style="italic" fill="#333" stroke="#333" stroke-width="0.18">C32E8.9</text>
<line x1="48.00" y1="217.50" x2="48.00" y2="252.60" stroke="#8a8a8a" stroke-width="1.5"/>
<text x="60.49" y="276.30" font-size="8.9" text-anchor="end" font-style="italic" fill="#4233a8" stroke="#4233a8" stroke-width="0.18" transform="rotate(-45 60.49 276.3)">sma−3</text>
<text x="76.77" y="276.30" font-size="8.9" text-anchor="end" font-style="italic" fill="#4233a8" stroke="#4233a8" stroke-width="0.18" transform="rotate(-45 76.77 276.3)">sma−2</text>
<text x="92.75" y="276.30" font-size="8.9" text-anchor="end" font-style="italic" fill="#4233a8" stroke="#4233a8" stroke-width="0.18" transform="rotate(-45 92.75000000000001 276.3)">lon−3</text>
<text x="109.03" y="276.30" font-size="8.9" text-anchor="end" font-style="italic" fill="#4233a8" stroke="#4233a8" stroke-width="0.18" transform="rotate(-45 109.03 276.3)">C34E11.2</text>
<text x="124.11" y="276.30" font-size="8.9" text-anchor="end" font-style="italic" fill="#4233a8" stroke="#4233a8" stroke-width="0.18" transform="rotate(-45 124.11 276.3)">rnt−1</text>
<text x="139.89" y="276.30" font-size="8.9" text-anchor="end" font-style="italic" fill="#4233a8" stroke="#4233a8" stroke-width="0.18" transform="rotate(-45 139.89000000000001 276.3)">dbl−1</text>
<text x="155.87" y="276.30" font-size="8.9" text-anchor="end" font-style="italic" fill="#4233a8" stroke="#4233a8" stroke-width="0.18" transform="rotate(-45 155.87 276.3)">nfi−1</text>
<text x="172.55" y="276.30" font-size="8.9" text-anchor="end" font-style="italic" fill="#4233a8" stroke="#4233a8" stroke-width="0.18" transform="rotate(-45 172.55 276.3)">lon−1</text>
<text x="189.53" y="276.30" font-size="8.9" text-anchor="end" font-style="italic" fill="#4233a8" stroke="#4233a8" stroke-width="0.18" transform="rotate(-45 189.53 276.3)">tag−68</text>
<text x="205.21" y="276.30" font-size="8.9" text-anchor="end" font-style="italic" fill="#4233a8" stroke="#4233a8" stroke-width="0.18" transform="rotate(-45 205.21 276.3)">daf−3</text>
<text x="221.69" y="276.30" font-size="8.9" text-anchor="end" font-style="italic" fill="#4233a8" stroke="#4233a8" stroke-width="0.18" transform="rotate(-45 221.69 276.3)">daf−8</text>
<text x="237.47" y="276.30" font-size="8.9" text-anchor="end" font-style="italic" fill="#ee5a2a" stroke="#ee5a2a" stroke-width="0.18" transform="rotate(-45 237.47 276.3)">gly−4</text>
<text x="254.85" y="276.30" font-size="8.9" text-anchor="end" font-style="italic" fill="#ee5a2a" stroke="#ee5a2a" stroke-width="0.18" transform="rotate(-45 254.85 276.3)">H25P19.1</text>
<text x="271.03" y="276.30" font-size="8.9" text-anchor="end" font-style="italic" fill="#ee5a2a" stroke="#ee5a2a" stroke-width="0.18" transform="rotate(-45 271.03000000000003 276.3)">rps−2</text>
<text x="286.71" y="276.30" font-size="8.9" text-anchor="end" font-style="italic" fill="#ee5a2a" stroke="#ee5a2a" stroke-width="0.18" transform="rotate(-45 286.71 276.3)">cap−2</text>
<text x="302.99" y="276.30" font-size="8.9" text-anchor="end" font-style="italic" fill="#2a7f52" stroke="#2a7f52" stroke-width="0.18" transform="rotate(-45 302.99 276.3)">ech−3</text>
<text x="319.67" y="276.30" font-size="8.9" text-anchor="end" font-style="italic" fill="#2a7f52" stroke="#2a7f52" stroke-width="0.18" transform="rotate(-45 319.67 276.3)">ech−5</text>
<text x="336.45" y="276.30" font-size="8.9" text-anchor="end" font-style="italic" fill="#2a7f52" stroke="#2a7f52" stroke-width="0.18" transform="rotate(-45 336.45000000000005 276.3)">ech−7</text>
<text x="352.43" y="276.30" font-size="8.9" text-anchor="end" font-style="italic" fill="#2a7f52" stroke="#2a7f52" stroke-width="0.18" transform="rotate(-45 352.43 276.3)">ech−2</text>
<text x="369.31" y="276.30" font-size="8.9" text-anchor="end" font-style="italic" fill="#2a7f52" stroke="#2a7f52" stroke-width="0.18" transform="rotate(-45 369.31 276.3)">ech−6</text>
<defs><linearGradient id="cb" x1="0" x2="1" y1="0" y2="0"><stop offset="0" stop-color="#434b3b"/><stop offset="0.25" stop-color="#a0a697"/><stop offset="0.5" stop-color="#ffffff"/><stop offset="0.75" stop-color="#c99499"/><stop offset="1" stop-color="#7a2631"/></linearGradient></defs>
<rect x="118.4" y="310.7" width="122.2" height="11.8" fill="url(#cb)"/>
<line x1="150.70" y1="310.70" x2="150.70" y2="312.70" stroke="#fff" stroke-width="0.8" opacity="0.7"/>
<line x1="150.70" y1="320.50" x2="150.70" y2="322.50" stroke="#fff" stroke-width="0.8" opacity="0.7"/>
<line x1="180.30" y1="310.70" x2="180.30" y2="312.70" stroke="#fff" stroke-width="0.8" opacity="0.7"/>
<line x1="180.30" y1="320.50" x2="180.30" y2="322.50" stroke="#fff" stroke-width="0.8" opacity="0.7"/>
<line x1="210.10" y1="310.70" x2="210.10" y2="312.70" stroke="#fff" stroke-width="0.8" opacity="0.7"/>
<line x1="210.10" y1="320.50" x2="210.10" y2="322.50" stroke="#fff" stroke-width="0.8" opacity="0.7"/>
<text x="243.50" y="320.30" font-size="9.8" text-anchor="start" fill="#333" stroke="#333" stroke-width="0.18">z-score (cpm)</text>
<text x="120.80" y="333.80" font-size="9.8" text-anchor="middle" fill="#333" stroke="#333" stroke-width="0.18">−2</text>
<text x="150.70" y="333.80" font-size="9.8" text-anchor="middle" fill="#333" stroke="#333" stroke-width="0.18">−1</text>
<text x="180.30" y="333.80" font-size="9.8" text-anchor="middle" fill="#333" stroke="#333" stroke-width="0.18">0</text>
<text x="210.10" y="333.80" font-size="9.8" text-anchor="middle" fill="#333" stroke="#333" stroke-width="0.18">1</text>
<text x="239.30" y="333.80" font-size="9.8" text-anchor="middle" fill="#333" stroke="#333" stroke-width="0.18">2</text>
<polyline points="432.00,79.66 498.87,79.66 517.15,82.93 546.72,109.10 574.33,136.91 606.23,191.93 636.91,219.88 652.86,229.10" fill="none" stroke="#a51c1f" stroke-width="2.5" stroke-linejoin="round"/>
<polyline points="432.00,81.59 499.49,82.04 516.66,87.84 545.01,113.71 605.99,210.96 635.68,229.10" fill="none" stroke="#a51c1f" stroke-width="2.5" stroke-linejoin="round" stroke-dasharray="5.3 3.7"/>
<polyline points="432.00,81.59 499.49,82.04 515.80,89.47 546.72,120.55 574.33,161.44 606.23,213.19 635.07,229.10" fill="none" stroke="#23819b" stroke-width="2.5" stroke-linejoin="round"/>
<polyline points="432.00,81.59 499.49,82.04 516.05,87.09 546.72,110.88 574.33,171.11 606.23,220.18 635.68,229.10" fill="none" stroke="#595959" stroke-width="2.5" stroke-linejoin="round"/>
<line x1="432.00" y1="79.60" x2="432.00" y2="230.00" stroke="#3a3a3a" stroke-width="1.8"/>
<line x1="431.10" y1="229.10" x2="677.90" y2="229.10" stroke="#3a3a3a" stroke-width="1.8"/>
<line x1="428.80" y1="80.40" x2="432.00" y2="80.40" stroke="#3a3a3a" stroke-width="1.2"/>
<text x="426.20" y="83.80" font-size="9.2" text-anchor="end" fill="#333" stroke="#333" stroke-width="0.18">100</text>
<line x1="428.80" y1="117.57" x2="432.00" y2="117.57" stroke="#3a3a3a" stroke-width="1.2"/>
<text x="426.20" y="120.97" font-size="9.2" text-anchor="end" fill="#333" stroke="#333" stroke-width="0.18">75</text>
<line x1="428.80" y1="154.75" x2="432.00" y2="154.75" stroke="#3a3a3a" stroke-width="1.2"/>
<text x="426.20" y="158.15" font-size="9.2" text-anchor="end" fill="#333" stroke="#333" stroke-width="0.18">50</text>
<line x1="428.80" y1="191.93" x2="432.00" y2="191.93" stroke="#3a3a3a" stroke-width="1.2"/>
<text x="426.20" y="195.33" font-size="9.2" text-anchor="end" fill="#333" stroke="#333" stroke-width="0.18">25</text>
<line x1="432.00" y1="229.10" x2="432.00" y2="232.60" stroke="#3a3a3a" stroke-width="1.2"/>
<text x="432.00" y="243.30" font-size="9.3" text-anchor="middle" fill="#333" stroke="#333" stroke-width="0.18">0</text>
<line x1="493.35" y1="229.10" x2="493.35" y2="232.60" stroke="#3a3a3a" stroke-width="1.2"/>
<text x="493.35" y="243.30" font-size="9.3" text-anchor="middle" fill="#333" stroke="#333" stroke-width="0.18">50</text>
<line x1="554.70" y1="229.10" x2="554.70" y2="232.60" stroke="#3a3a3a" stroke-width="1.2"/>
<text x="554.70" y="243.30" font-size="9.3" text-anchor="middle" fill="#333" stroke="#333" stroke-width="0.18">100</text>
<line x1="616.05" y1="229.10" x2="616.05" y2="232.60" stroke="#3a3a3a" stroke-width="1.2"/>
<text x="616.05" y="243.30" font-size="9.3" text-anchor="middle" fill="#333" stroke="#333" stroke-width="0.18">150</text>
<line x1="677.40" y1="229.10" x2="677.40" y2="232.60" stroke="#3a3a3a" stroke-width="1.2"/>
<text x="677.40" y="243.30" font-size="9.3" text-anchor="middle" fill="#333" stroke="#333" stroke-width="0.18">200</text>
<text x="555.90" y="256.00" font-size="9.6" text-anchor="middle" fill="#222" stroke="#222" stroke-width="0.18">Hours</text>
<text x="494.8" y="65.8" font-size="11" fill="#222"><tspan font-style="italic">P. aeruginosa</tspan> PA01</text>
<text x="408.20" y="152.50" font-size="11" text-anchor="middle" font-weight="bold" fill="#111" transform="rotate(-90 408.2 152.5)">% Survival</text>
<text x="468.90" y="140.90" font-size="10" text-anchor="start" fill="#333" stroke="#333" stroke-width="0.18">RNAi:</text>
<line x1="451.1" y1="154.4" x2="462.8" y2="154.4" stroke="#595959" stroke-width="2.6"/>
<line x1="451.1" y1="169.9" x2="462.8" y2="169.9" stroke="#cc6218" stroke-width="2.6"/>
<line x1="451.1" y1="185.2" x2="462.8" y2="185.2" stroke="#23819b" stroke-width="2.6"/>
<line x1="451.1" y1="200.6" x2="462.8" y2="200.6" stroke="#a51c1f" stroke-width="2.6" stroke-dasharray="4.4 2.9"/>
<text x="468.90" y="156.80" font-size="10" text-anchor="start" fill="#222" stroke="#222" stroke-width="0.18">ctrl</text>
<text x="468.90" y="172.20" font-size="10" text-anchor="start" font-style="italic" fill="#222" stroke="#222" stroke-width="0.18">mrps-5</text>
<text x="468.90" y="187.80" font-size="10" text-anchor="start" font-style="italic" fill="#222" stroke="#222" stroke-width="0.18">C32E8.9</text>
<text x="468.90" y="202.50" font-size="10" text-anchor="start" font-style="italic" fill="#222" stroke="#222" stroke-width="0.18">mrps-5 +</text>
<text x="468.90" y="214.30" font-size="10" text-anchor="start" font-style="italic" fill="#222" stroke="#222" stroke-width="0.18">C32E8.9</text>
<polyline points="511.00,151.40 514.80,151.40 514.80,171.40 511.00,171.40" fill="none" stroke="#222" stroke-width="1.2"/>
<text x="516.80" y="167.00" font-size="10.2" text-anchor="start" fill="#222" stroke="#222" stroke-width="0.18">**</text>
<polyline points="524.80,171.80 528.30,171.80 528.30,204.20 524.80,204.20" fill="none" stroke="#222" stroke-width="1.2"/>
<text x="530.90" y="192.40" font-size="10.2" text-anchor="start" fill="#222" stroke="#222" stroke-width="0.18">*</text>
<polyline points="48.90,399.50 79.92,399.50 107.55,402.91 137.05,413.91 160.25,460.84 195.23,506.07 225.78,527.45 264.61,554.40" fill="none" stroke="#595959" stroke-width="2.5" stroke-linejoin="round" stroke-dasharray="5.3 3.7"/>
<polyline points="48.90,399.50 79.92,399.50 107.55,401.98 137.05,445.04 159.44,500.96 195.23,528.53 225.78,548.20 251.78,554.40" fill="none" stroke="#23819b" stroke-width="2.5" stroke-linejoin="round"/>
<polyline points="48.90,399.50 79.92,399.50 107.55,401.98 137.05,442.10 159.44,497.86 195.23,527.29 225.78,543.56 251.78,554.40" fill="none" stroke="#23819b" stroke-width="2.5" stroke-linejoin="round" stroke-dasharray="5.3 3.7"/>
<polyline points="48.90,399.50 79.92,399.50 107.55,410.34 137.05,426.30 159.44,494.76 195.23,527.45 225.78,545.88 251.43,554.40" fill="none" stroke="#595959" stroke-width="2.5" stroke-linejoin="round"/>
<line x1="48.90" y1="398.70" x2="48.90" y2="555.30" stroke="#3a3a3a" stroke-width="1.8"/>
<line x1="48.00" y1="554.40" x2="282.60" y2="554.40" stroke="#3a3a3a" stroke-width="1.8"/>
<line x1="45.70" y1="399.50" x2="48.90" y2="399.50" stroke="#3a3a3a" stroke-width="1.2"/>
<text x="43.00" y="402.90" font-size="9.2" text-anchor="end" fill="#333" stroke="#333" stroke-width="0.18">100</text>
<line x1="45.70" y1="438.23" x2="48.90" y2="438.23" stroke="#3a3a3a" stroke-width="1.2"/>
<text x="43.00" y="441.62" font-size="9.2" text-anchor="end" fill="#333" stroke="#333" stroke-width="0.18">75</text>
<line x1="45.70" y1="476.95" x2="48.90" y2="476.95" stroke="#3a3a3a" stroke-width="1.2"/>
<text x="43.00" y="480.35" font-size="9.2" text-anchor="end" fill="#333" stroke="#333" stroke-width="0.18">50</text>
<line x1="45.70" y1="515.67" x2="48.90" y2="515.67" stroke="#3a3a3a" stroke-width="1.2"/>
<text x="43.00" y="519.07" font-size="9.2" text-anchor="end" fill="#333" stroke="#333" stroke-width="0.18">25</text>
<line x1="48.90" y1="554.40" x2="48.90" y2="557.90" stroke="#3a3a3a" stroke-width="1.2"/>
<text x="48.90" y="568.10" font-size="9.3" text-anchor="middle" fill="#333" stroke="#333" stroke-width="0.18">0</text>
<line x1="107.20" y1="554.40" x2="107.20" y2="557.90" stroke="#3a3a3a" stroke-width="1.2"/>
<text x="107.20" y="568.10" font-size="9.3" text-anchor="middle" fill="#333" stroke="#333" stroke-width="0.18">50</text>
<line x1="165.50" y1="554.40" x2="165.50" y2="557.90" stroke="#3a3a3a" stroke-width="1.2"/>
<text x="165.50" y="568.10" font-size="9.3" text-anchor="middle" fill="#333" stroke="#333" stroke-width="0.18">100</text>
<line x1="223.80" y1="554.40" x2="223.80" y2="557.90" stroke="#3a3a3a" stroke-width="1.2"/>
<text x="223.80" y="568.10" font-size="9.3" text-anchor="middle" fill="#333" stroke="#333" stroke-width="0.18">150</text>
<line x1="282.10" y1="554.40" x2="282.10" y2="557.90" stroke="#3a3a3a" stroke-width="1.2"/>
<text x="282.10" y="568.10" font-size="9.3" text-anchor="middle" fill="#333" stroke="#333" stroke-width="0.18">200</text>
<text x="166.40" y="582.50" font-size="9.6" text-anchor="middle" fill="#222" stroke="#222" stroke-width="0.18">Hours</text>
<text x="101.2" y="380.7" font-size="11" fill="#222"><tspan font-style="italic">P. aeruginosa</tspan> PA01</text>
<text x="17.20" y="477.40" font-size="11" text-anchor="middle" font-weight="bold" fill="#111" transform="rotate(-90 17.2 477.4)">% Survival</text>
<text x="202.60" y="426.80" font-size="11.2" text-anchor="start" fill="#333" stroke="#333" stroke-width="0.18">Strain:</text>
<line x1="188.00" y1="438.50" x2="199.70" y2="438.50" stroke="#595959" stroke-width="2.6"/>
<text x="203.80" y="442.10" font-size="11.3" text-anchor="start" fill="#222" stroke="#222" stroke-width="0.18">ctrl</text>
<line x1="188.00" y1="452.60" x2="199.70" y2="452.60" stroke="#23819b" stroke-width="2.6"/>
<text x="205.0" y="455.3" font-size="11.3" fill="#222"><tspan font-style="italic">C32E8.9</tspan> KO</text>
<text x="75.80" y="486.50" font-size="11.3" text-anchor="start" fill="#333" stroke="#333" stroke-width="0.18">RNAi:</text>
<line x1="61.90" y1="497.00" x2="74.00" y2="497.00" stroke="#595959" stroke-width="2.8"/>
<text x="77.30" y="500.40" font-size="11.3" text-anchor="start" fill="#222" stroke="#222" stroke-width="0.18">ctrl</text>
<line x1="61" y1="511.3" x2="75.1" y2="511.3" stroke="#595959" stroke-width="2.8" stroke-dasharray="6.9 2"/>
<text x="77.80" y="514.50" font-size="11.3" text-anchor="start" font-style="italic" fill="#222" stroke="#222" stroke-width="0.18">mrps-5</text>
<line x1="61.90" y1="525.70" x2="74.00" y2="525.70" stroke="#23819b" stroke-width="2.8"/>
<text x="79.10" y="530.10" font-size="11.3" text-anchor="start" fill="#222" stroke="#222" stroke-width="0.18">ctrl</text>
<line x1="61" y1="540.0" x2="75.1" y2="540.0" stroke="#23819b" stroke-width="2.8" stroke-dasharray="6.9 2"/>
<text x="79.30" y="545.20" font-size="11.3" text-anchor="start" font-style="italic" fill="#222" stroke="#222" stroke-width="0.18">mrps-5</text>
<polyline points="119.20,496.00 121.50,496.00 121.50,513.50 119.20,513.50" fill="none" stroke="#222" stroke-width="1.2"/>
<text x="124.60" y="511.00" font-size="10.2" text-anchor="start" fill="#222" stroke="#222" stroke-width="0.18">*</text>
<polyline points="118.90,525.50 121.20,525.50 121.20,544.20 118.90,544.20" fill="none" stroke="#222" stroke-width="1.2"/>
<text x="122.50" y="538.20" font-size="11.3" text-anchor="start" fill="#222" stroke="#222" stroke-width="0.18">ns</text>
<polyline points="407.00,403.29 472.56,403.73 489.25,416.61 519.05,433.04 546.46,475.96 577.10,532.94 603.68,550.40" fill="none" stroke="#a51c1f" stroke-width="2.5" stroke-linejoin="round" stroke-dasharray="5.3 3.7"/>
<polyline points="407.00,402.40 473.75,403.58 489.61,413.35 518.45,457.46 545.87,517.10 577.10,534.56 606.06,550.40" fill="none" stroke="#23819b" stroke-width="2.5" stroke-linejoin="round"/>
<polyline points="407.00,401.51 472.56,401.51 489.61,404.47 520.24,430.82 546.46,458.34 577.10,514.44 606.06,541.52 620.01,550.40" fill="none" stroke="#a51c1f" stroke-width="2.5" stroke-linejoin="round"/>
<polyline points="407.00,403.29 472.56,403.73 489.13,408.32 518.81,433.33 545.51,492.68 577.10,542.56 606.06,550.40" fill="none" stroke="#595959" stroke-width="2.5" stroke-linejoin="round"/>
<line x1="407.00" y1="401.60" x2="407.00" y2="551.30" stroke="#3a3a3a" stroke-width="1.8"/>
<line x1="406.10" y1="550.40" x2="645.90" y2="550.40" stroke="#3a3a3a" stroke-width="1.8"/>
<line x1="403.80" y1="402.40" x2="407.00" y2="402.40" stroke="#3a3a3a" stroke-width="1.2"/>
<text x="400.30" y="405.80" font-size="9.2" text-anchor="end" fill="#333" stroke="#333" stroke-width="0.18">100</text>
<line x1="403.80" y1="439.40" x2="407.00" y2="439.40" stroke="#3a3a3a" stroke-width="1.2"/>
<text x="400.30" y="442.80" font-size="9.2" text-anchor="end" fill="#333" stroke="#333" stroke-width="0.18">75</text>
<line x1="403.80" y1="476.40" x2="407.00" y2="476.40" stroke="#3a3a3a" stroke-width="1.2"/>
<text x="400.30" y="479.80" font-size="9.2" text-anchor="end" fill="#333" stroke="#333" stroke-width="0.18">50</text>
<line x1="403.80" y1="513.40" x2="407.00" y2="513.40" stroke="#3a3a3a" stroke-width="1.2"/>
<text x="400.30" y="516.80" font-size="9.2" text-anchor="end" fill="#333" stroke="#333" stroke-width="0.18">25</text>
<line x1="407.00" y1="550.40" x2="407.00" y2="553.90" stroke="#3a3a3a" stroke-width="1.2"/>
<text x="407.00" y="565.20" font-size="9.3" text-anchor="middle" fill="#333" stroke="#333" stroke-width="0.18">0</text>
<line x1="466.60" y1="550.40" x2="466.60" y2="553.90" stroke="#3a3a3a" stroke-width="1.2"/>
<text x="466.60" y="565.20" font-size="9.3" text-anchor="middle" fill="#333" stroke="#333" stroke-width="0.18">50</text>
<line x1="526.20" y1="550.40" x2="526.20" y2="553.90" stroke="#3a3a3a" stroke-width="1.2"/>
<text x="526.20" y="565.20" font-size="9.3" text-anchor="middle" fill="#333" stroke="#333" stroke-width="0.18">100</text>
<line x1="585.80" y1="550.40" x2="585.80" y2="553.90" stroke="#3a3a3a" stroke-width="1.2"/>
<text x="585.80" y="565.20" font-size="9.3" text-anchor="middle" fill="#333" stroke="#333" stroke-width="0.18">150</text>
<line x1="645.40" y1="550.40" x2="645.40" y2="553.90" stroke="#3a3a3a" stroke-width="1.2"/>
<text x="645.40" y="565.20" font-size="9.3" text-anchor="middle" fill="#333" stroke="#333" stroke-width="0.18">200</text>
<text x="527.50" y="578.60" font-size="9.6" text-anchor="middle" fill="#222" stroke="#222" stroke-width="0.18">Hours</text>
<text x="473.5" y="381.3" font-size="11" fill="#222"><tspan font-style="italic">P. aeruginosa</tspan> PA01</text>
<text x="379.20" y="476.30" font-size="11" text-anchor="middle" font-weight="bold" fill="#111" transform="rotate(-90 379.2 476.3)">% Survival</text>
<text x="441.40" y="467.20" font-size="10" text-anchor="start" fill="#333" stroke="#333" stroke-width="0.18">RNAi:</text>
<line x1="424" y1="481.6" x2="434.5" y2="481.6" stroke="#595959" stroke-width="2.6"/>
<line x1="424" y1="497.9" x2="434.5" y2="497.9" stroke="#a51c1f" stroke-width="2.6"/>
<line x1="424" y1="514.6" x2="434.5" y2="514.6" stroke="#23819b" stroke-width="2.6"/>
<line x1="423.8" y1="531.0" x2="434.5" y2="531.0" stroke="#a51c1f" stroke-width="2.6" stroke-dasharray="5.1 2.4"/>
<text x="441.70" y="484.20" font-size="10" text-anchor="start" fill="#222" stroke="#222" stroke-width="0.18">ctrl</text>
<text x="441.70" y="499.90" font-size="10" text-anchor="start" font-style="italic" fill="#222" stroke="#222" stroke-width="0.18">mrps-5</text>
<text x="441.70" y="516.70" font-size="10" text-anchor="start" font-style="italic" fill="#222" stroke="#222" stroke-width="0.18">sma-4</text>
<text x="441.70" y="531.00" font-size="10" text-anchor="start" font-style="italic" fill="#222" stroke="#222" stroke-width="0.18">mrps-5 +</text>
<text x="441.70" y="541.30" font-size="10" text-anchor="start" font-style="italic" fill="#222" stroke="#222" stroke-width="0.18">sma-4</text>
<polyline points="485.50,477.80 488.50,477.80 488.50,497.60 485.50,497.60" fill="none" stroke="#222" stroke-width="1.2"/>
<text x="490.80" y="493.80" font-size="10.2" text-anchor="start" fill="#222" stroke="#222" stroke-width="0.18">**</text>
<polyline points="493.20,497.00 496.20,497.00 496.20,530.30 493.20,530.30" fill="none" stroke="#222" stroke-width="1.2"/>
<text x="499.60" y="517.40" font-size="8.8" text-anchor="start" fill="#222" stroke="#222" stroke-width="0.18">0.08</text>
<rect x="57.40" y="760.19" width="21.6" height="28.61" fill="#fff" stroke="#595959" stroke-width="1.6"/>
<line x1="68.20" y1="740.42" x2="68.20" y2="778.12" stroke="#595959" stroke-width="1.0" opacity="0.75"/>
<line x1="62.30" y1="740.42" x2="74.10" y2="740.42" stroke="#595959" stroke-width="1.0" opacity="0.75"/>
<line x1="62.30" y1="778.12" x2="74.10" y2="778.12" stroke="#595959" stroke-width="1.0" opacity="0.75"/>
<circle cx="68.20" cy="733.70" r="3.1" fill="#595959"/>
<circle cx="68.20" cy="745.80" r="3.1" fill="#595959"/>
<circle cx="68.20" cy="752.30" r="3.1" fill="#595959"/>
<circle cx="68.20" cy="764.00" r="3.1" fill="#595959"/>
<circle cx="68.20" cy="776.40" r="3.1" fill="#595959"/>
<circle cx="68.20" cy="782.80" r="3.1" fill="#595959"/>
<rect x="93.00" y="723.72" width="21.6" height="65.08" fill="#fff" stroke="#23819b" stroke-width="1.6"/>
<line x1="103.80" y1="686.26" x2="103.80" y2="758.96" stroke="#23819b" stroke-width="1.0" opacity="0.75"/>
<line x1="97.90" y1="686.26" x2="109.70" y2="686.26" stroke="#23819b" stroke-width="1.0" opacity="0.75"/>
<line x1="97.90" y1="758.96" x2="109.70" y2="758.96" stroke="#23819b" stroke-width="1.0" opacity="0.75"/>
<circle cx="103.80" cy="684.50" r="3.1" fill="#23819b"/>
<circle cx="103.80" cy="690.70" r="3.1" fill="#23819b"/>
<circle cx="103.80" cy="721.30" r="3.1" fill="#23819b"/>
<circle cx="103.80" cy="746.10" r="3.1" fill="#23819b"/>
<circle cx="103.80" cy="770.70" r="3.1" fill="#23819b"/>
<rect x="128.60" y="682.58" width="21.6" height="106.22" fill="#fff" stroke="#a51c1f" stroke-width="1.6"/>
<line x1="139.40" y1="649.42" x2="139.40" y2="713.89" stroke="#a51c1f" stroke-width="1.0" opacity="0.75"/>
<line x1="133.50" y1="649.42" x2="145.30" y2="649.42" stroke="#a51c1f" stroke-width="1.0" opacity="0.75"/>
<line x1="133.50" y1="713.89" x2="145.30" y2="713.89" stroke="#a51c1f" stroke-width="1.0" opacity="0.75"/>
<circle cx="139.40" cy="647.30" r="3.1" fill="#a51c1f"/>
<circle cx="139.40" cy="659.80" r="3.1" fill="#a51c1f"/>
<circle cx="130.40" cy="708.80" r="3.1" fill="#a51c1f"/>
<circle cx="147.90" cy="708.80" r="3.1" fill="#a51c1f"/>
<rect x="164.20" y="726.79" width="21.6" height="62.01" fill="#fff" stroke="#cc6218" stroke-width="1.6"/>
<line x1="175.00" y1="708.61" x2="175.00" y2="740.42" stroke="#cc6218" stroke-width="1.0" opacity="0.75"/>
<line x1="169.10" y1="708.61" x2="180.90" y2="708.61" stroke="#cc6218" stroke-width="1.0" opacity="0.75"/>
<line x1="169.10" y1="740.42" x2="180.90" y2="740.42" stroke="#cc6218" stroke-width="1.0" opacity="0.75"/>
<circle cx="175.00" cy="702.70" r="3.1" fill="#cc6218"/>
<circle cx="166.00" cy="727.20" r="3.1" fill="#cc6218"/>
<circle cx="183.90" cy="727.20" r="3.1" fill="#cc6218"/>
<circle cx="175.00" cy="739.90" r="3.1" fill="#cc6218"/>
<line x1="44.90" y1="634.50" x2="44.90" y2="789.50" stroke="#222" stroke-width="1.3"/>
<line x1="44.30" y1="788.80" x2="191.90" y2="788.80" stroke="#222" stroke-width="1.3"/>
<line x1="41.90" y1="666.00" x2="44.90" y2="666.00" stroke="#222" stroke-width="1.0"/>
<text x="40.50" y="669.20" font-size="9.1" text-anchor="end" fill="#333" stroke="#333" stroke-width="0.18">0.2</text>
<line x1="41.90" y1="727.40" x2="44.90" y2="727.40" stroke="#222" stroke-width="1.0"/>
<text x="40.50" y="730.60" font-size="9.1" text-anchor="end" fill="#333" stroke="#333" stroke-width="0.18">0.1</text>
<text x="40.50" y="792.00" font-size="9.1" text-anchor="end" fill="#333" stroke="#333" stroke-width="0.18">0</text>
<text x="21.20" y="807.00" font-size="10.0" text-anchor="start" fill="#222" stroke="#222" stroke-width="0.18">RNAi:</text>
<text x="71.20" y="797.00" font-size="10.0" text-anchor="end" fill="#222" stroke="#222" stroke-width="0.18" transform="rotate(-45 71.2 797.0)">ctrl</text>
<text x="106.80" y="797.00" font-size="10.0" text-anchor="end" font-style="italic" fill="#222" stroke="#222" stroke-width="0.18" transform="rotate(-45 106.80000000000001 797.0)">C32E8.9</text>
<text x="142.40" y="797.00" font-size="10.0" text-anchor="end" font-style="italic" fill="#222" stroke="#222" stroke-width="0.18" transform="rotate(-45 142.4 797.0)">mrps-5</text>
<text x="178.00" y="797.00" font-size="10.0" text-anchor="end" font-style="italic" fill="#222" stroke="#222" stroke-width="0.18" transform="rotate(-45 178.0 797.0)">mrps-5 +</text>
<text x="186.50" y="805.50" font-size="10.0" text-anchor="end" font-style="italic" fill="#222" stroke="#222" stroke-width="0.18" transform="rotate(-45 186.5 805.5)">C32E8.9</text>
<polyline points="65.60,649.50 65.60,637.30 136.60,637.30 136.60,642.50" fill="none" stroke="#222" stroke-width="1.15"/>
<polyline points="140.20,642.50 140.20,637.30 176.50,637.30 176.50,644.60" fill="none" stroke="#222" stroke-width="1.15"/>
<text x="98.50" y="639.20" font-size="10.2" text-anchor="middle" fill="#222" stroke="#222" stroke-width="0.18">**</text>
<text x="162.00" y="636.40" font-size="10.2" text-anchor="middle" fill="#222" stroke="#222" stroke-width="0.18">ns</text>
<text x="22.10" y="708.30" font-size="9.1" text-anchor="middle" font-weight="bold" fill="#111" transform="rotate(-90 22.1 708.3)">% worms outside of lawn</text>
<rect x="276.90" y="760.19" width="21.6" height="28.61" fill="#fff" stroke="#595959" stroke-width="1.6"/>
<line x1="287.70" y1="740.42" x2="287.70" y2="778.12" stroke="#595959" stroke-width="1.0" opacity="0.75"/>
<line x1="281.80" y1="740.42" x2="293.60" y2="740.42" stroke="#595959" stroke-width="1.0" opacity="0.75"/>
<line x1="281.80" y1="778.12" x2="293.60" y2="778.12" stroke="#595959" stroke-width="1.0" opacity="0.75"/>
<circle cx="287.70" cy="733.70" r="3.1" fill="#595959"/>
<circle cx="287.70" cy="745.80" r="3.1" fill="#595959"/>
<circle cx="287.70" cy="752.30" r="3.1" fill="#595959"/>
<circle cx="287.70" cy="764.00" r="3.1" fill="#595959"/>
<circle cx="287.70" cy="776.40" r="3.1" fill="#595959"/>
<circle cx="287.70" cy="782.80" r="3.1" fill="#595959"/>
<rect x="312.50" y="761.78" width="21.6" height="27.02" fill="#fff" stroke="#23819b" stroke-width="1.6"/>
<line x1="323.30" y1="750.92" x2="323.30" y2="769.70" stroke="#23819b" stroke-width="1.0" opacity="0.75"/>
<line x1="317.40" y1="750.92" x2="329.20" y2="750.92" stroke="#23819b" stroke-width="1.0" opacity="0.75"/>
<line x1="317.40" y1="769.70" x2="329.20" y2="769.70" stroke="#23819b" stroke-width="1.0" opacity="0.75"/>
<circle cx="323.30" cy="745.80" r="3.1" fill="#23819b"/>
<circle cx="323.30" cy="757.80" r="3.1" fill="#23819b"/>
<circle cx="315.10" cy="764.00" r="3.1" fill="#23819b"/>
<circle cx="332.00" cy="764.00" r="3.1" fill="#23819b"/>
<circle cx="323.30" cy="770.20" r="3.1" fill="#23819b"/>
<rect x="348.10" y="682.58" width="21.6" height="106.22" fill="#fff" stroke="#a51c1f" stroke-width="1.6"/>
<line x1="358.90" y1="649.42" x2="358.90" y2="713.89" stroke="#a51c1f" stroke-width="1.0" opacity="0.75"/>
<line x1="353.00" y1="649.42" x2="364.80" y2="649.42" stroke="#a51c1f" stroke-width="1.0" opacity="0.75"/>
<line x1="353.00" y1="713.89" x2="364.80" y2="713.89" stroke="#a51c1f" stroke-width="1.0" opacity="0.75"/>
<circle cx="358.90" cy="647.30" r="3.1" fill="#a51c1f"/>
<circle cx="358.90" cy="659.80" r="3.1" fill="#a51c1f"/>
<circle cx="349.90" cy="708.80" r="3.1" fill="#a51c1f"/>
<circle cx="367.40" cy="708.80" r="3.1" fill="#a51c1f"/>
<rect x="383.70" y="724.02" width="21.6" height="64.78" fill="#fff" stroke="#cc6218" stroke-width="1.6"/>
<line x1="394.50" y1="703.09" x2="394.50" y2="741.58" stroke="#cc6218" stroke-width="1.0" opacity="0.75"/>
<line x1="388.60" y1="703.09" x2="400.40" y2="703.09" stroke="#cc6218" stroke-width="1.0" opacity="0.75"/>
<line x1="388.60" y1="741.58" x2="400.40" y2="741.58" stroke="#cc6218" stroke-width="1.0" opacity="0.75"/>
<circle cx="394.50" cy="702.40" r="3.1" fill="#cc6218"/>
<circle cx="394.50" cy="708.90" r="3.1" fill="#cc6218"/>
<circle cx="394.50" cy="721.30" r="3.1" fill="#cc6218"/>
<circle cx="394.50" cy="727.20" r="3.1" fill="#cc6218"/>
<circle cx="394.50" cy="752.00" r="3.1" fill="#cc6218"/>
<line x1="264.40" y1="634.50" x2="264.40" y2="789.50" stroke="#222" stroke-width="1.3"/>
<line x1="263.80" y1="788.80" x2="411.40" y2="788.80" stroke="#222" stroke-width="1.3"/>
<line x1="261.40" y1="666.00" x2="264.40" y2="666.00" stroke="#222" stroke-width="1.0"/>
<text x="260.00" y="669.20" font-size="9.1" text-anchor="end" fill="#333" stroke="#333" stroke-width="0.18">0.2</text>
<line x1="261.40" y1="727.40" x2="264.40" y2="727.40" stroke="#222" stroke-width="1.0"/>
<text x="260.00" y="730.60" font-size="9.1" text-anchor="end" fill="#333" stroke="#333" stroke-width="0.18">0.1</text>
<text x="260.00" y="790.40" font-size="9.1" text-anchor="end" fill="#333" stroke="#333" stroke-width="0.18">0</text>
<text x="243.70" y="807.00" font-size="10.0" text-anchor="start" fill="#222" stroke="#222" stroke-width="0.18">RNAi:</text>
<text x="290.70" y="797.00" font-size="10.0" text-anchor="end" fill="#222" stroke="#222" stroke-width="0.18" transform="rotate(-45 290.7 797.0)">ctrl</text>
<text x="326.30" y="797.00" font-size="10.0" text-anchor="end" font-style="italic" fill="#222" stroke="#222" stroke-width="0.18" transform="rotate(-45 326.3 797.0)">sma-4</text>
<text x="361.90" y="797.00" font-size="10.0" text-anchor="end" font-style="italic" fill="#222" stroke="#222" stroke-width="0.18" transform="rotate(-45 361.9 797.0)">mrps-5</text>
<text x="397.50" y="797.00" font-size="10.0" text-anchor="end" font-style="italic" fill="#222" stroke="#222" stroke-width="0.18" transform="rotate(-45 397.5 797.0)">mrps-5 +</text>
<text x="406.00" y="805.50" font-size="10.0" text-anchor="end" font-style="italic" fill="#222" stroke="#222" stroke-width="0.18" transform="rotate(-45 406.0 805.5)">sma-4</text>
<polyline points="287.90,648.70 287.90,636.90 358.80,636.90 358.80,641.60" fill="none" stroke="#222" stroke-width="1.15"/>
<polyline points="362.00,643.40 362.00,636.90 397.40,636.90 397.40,642.50" fill="none" stroke="#222" stroke-width="1.15"/>
<text x="323.20" y="637.60" font-size="10.2" text-anchor="middle" fill="#222" stroke="#222" stroke-width="0.18">***</text>
<text x="378.50" y="637.20" font-size="10.2" text-anchor="middle" fill="#222" stroke="#222" stroke-width="0.18">*</text>
<text x="240.00" y="707.30" font-size="10.1" text-anchor="middle" font-weight="bold" fill="#111" transform="rotate(-90 240.0 707.3)">% worms outside of lawn</text>
<defs>
<radialGradient id="bgv" cx="0.62" cy="0.3" r="0.85"><stop offset="0" stop-color="#d8d8d8"/><stop offset="0.6" stop-color="#d2d2d2"/><stop offset="1" stop-color="#c8c8c8"/></radialGradient>
<radialGradient id="lawn" cx="0.5" cy="0.5" r="0.5"><stop offset="0" stop-color="#c4c4c4"/><stop offset="0.6" stop-color="#c2c2c2"/><stop offset="0.65" stop-color="#bababa"/><stop offset="0.86" stop-color="#b7b7b7"/><stop offset="0.93" stop-color="#aeaeae"/><stop offset="0.975" stop-color="#9e9e9e"/><stop offset="1" stop-color="#ababab"/></radialGradient><radialGradient id="lawnB" cx="0.5" cy="0.5" r="0.5"><stop offset="0" stop-color="#bfbfbf"/><stop offset="0.86" stop-color="#b9b9b9"/><stop offset="0.93" stop-color="#afafaf"/><stop offset="0.975" stop-color="#9e9e9e"/><stop offset="1" stop-color="#ababab"/></radialGradient>
<filter id="grain" x="0" y="0" width="100%" height="100%"><feTurbulence type="fractalNoise" baseFrequency="0.55" numOctaves="2" seed="7" result="t"/><feColorMatrix in="t" type="matrix" values="0 0 0 0 0.35  0 0 0 0 0.35  0 0 0 0 0.35  1.6 0 0 0 -0.72"/></filter>
</defs>
<clipPath id="c1"><rect x="447.9" y="629.9" width="108.6" height="80.6"/></clipPath>
<clipPath id="c1l"><circle cx="502.5" cy="714.5" r="40.9"/></clipPath>
<g clip-path="url(#c1)">
<rect x="447.9" y="629.9" width="108.6" height="80.6" fill="url(#bgv)"/>
<circle cx="502.5" cy="714.5" r="40.9" fill="url(#lawn)"/>
<g clip-path="url(#c1l)"><rect x="461.6" y="673.6" width="81.8" height="81.8" filter="url(#grain)" opacity="0.7"/></g>
<circle cx="502.5" cy="714.5" r="40.00" fill="none" stroke="#7a7a7a" stroke-width="1.3" stroke-dasharray="0.9 1.7" opacity="0.55"/>
<circle cx="502.5" cy="714.5" r="37.70" fill="none" stroke="#8a8a8a" stroke-width="1.0" stroke-dasharray="0.7 2.9" opacity="0.45"/>
<circle cx="502.5" cy="714.5" r="25.77" fill="none" stroke="#b0b0b0" stroke-width="0.7" opacity="0.4"/>
<path d="M507.8,651.8 q0.7,-2.8 3.6,-2.4" fill="none" stroke="#5c5c5c" stroke-width="0.6" stroke-linecap="round"/>
<path d="M483.2,688.8 q2.9,-0.4 3.6,2.4" fill="none" stroke="#7a7a7a" stroke-width="0.6" stroke-linecap="round"/>
<path d="M501.8,684.8 q-0.7,2.8 -3.6,2.4" fill="none" stroke="#7a7a7a" stroke-width="0.6" stroke-linecap="round"/>
<path d="M512.2,682.4 q2.3,-1.0 3.6,1.2" fill="none" stroke="#7a7a7a" stroke-width="0.6" stroke-linecap="round"/>
<path d="M474.2,698.2 q0.4,2.9 -2.4,3.6" fill="none" stroke="#7a7a7a" stroke-width="0.6" stroke-linecap="round"/>
<path d="M528.8,693.2 q2.8,0.7 2.4,3.6" fill="none" stroke="#7a7a7a" stroke-width="0.6" stroke-linecap="round"/>
<path d="M520.2,707.6 q1.3,-2.2 3.6,-1.2" fill="none" stroke="#7a7a7a" stroke-width="0.6" stroke-linecap="round"/>
<path d="M488.8,700.8 q2.3,0.1 2.4,2.4" fill="none" stroke="#7a7a7a" stroke-width="0.6" stroke-linecap="round"/>
<line x1="556.1" y1="629.9" x2="556.1" y2="710.5" stroke="#bdbdbd" stroke-width="0.8"/>
<rect x="447.9" y="707.9" width="22.3" height="2.6" fill="#111"/>
<rect x="457.4" y="708.6" width="3" height="1.1" fill="#666"/>
</g>
<clipPath id="c2"><rect x="561.1" y="629.9" width="107.8" height="80.6"/></clipPath>
<clipPath id="c2l"><circle cx="613.8" cy="708.9" r="40.9"/></clipPath>
<g clip-path="url(#c2)">
<rect x="561.1" y="629.9" width="107.8" height="80.6" fill="url(#bgv)"/>
<circle cx="613.8" cy="708.9" r="40.9" fill="url(#lawn)"/>
<g clip-path="url(#c2l)"><rect x="572.9" y="668.0" width="81.8" height="81.8" filter="url(#grain)" opacity="0.7"/></g>
<circle cx="613.8" cy="708.9" r="40.00" fill="none" stroke="#7a7a7a" stroke-width="1.3" stroke-dasharray="0.9 1.7" opacity="0.55"/>
<circle cx="613.8" cy="708.9" r="37.70" fill="none" stroke="#8a8a8a" stroke-width="1.0" stroke-dasharray="0.7 2.9" opacity="0.45"/>
<circle cx="613.8" cy="708.9" r="25.77" fill="none" stroke="#b0b0b0" stroke-width="0.7" opacity="0.4"/>
<path d="M608.4,645.1 q0.7,-2.8 3.6,-2.4" fill="none" stroke="#5c5c5c" stroke-width="0.6" stroke-linecap="round"/>
<path d="M604.6,654.5 q-0.4,-2.9 2.4,-3.6" fill="none" stroke="#5c5c5c" stroke-width="0.6" stroke-linecap="round"/>
<path d="M599.3,663.2 q-0.4,-2.9 2.4,-3.6" fill="none" stroke="#5c5c5c" stroke-width="0.6" stroke-linecap="round"/>
<path d="M589.4,662.2 q2.2,1.3 1.2,3.6" fill="none" stroke="#5c5c5c" stroke-width="0.6" stroke-linecap="round"/>
<path d="M576.9,661.7 q-1.3,2.2 -3.6,1.2" fill="none" stroke="#5c5c5c" stroke-width="0.6" stroke-linecap="round"/>
<path d="M579.5,676.6 q0.7,-2.8 3.6,-2.4" fill="none" stroke="#5c5c5c" stroke-width="0.6" stroke-linecap="round"/>
<path d="M632.9,653.2 q2.9,-0.4 3.6,2.4" fill="none" stroke="#5c5c5c" stroke-width="0.6" stroke-linecap="round"/>
<path d="M650.8,642.1 q2.2,1.3 1.2,3.6" fill="none" stroke="#5c5c5c" stroke-width="0.6" stroke-linecap="round"/>
<path d="M665.0,664.0 q2.8,0.7 2.4,3.6" fill="none" stroke="#5c5c5c" stroke-width="0.6" stroke-linecap="round"/>
<path d="M642.6,675.2 q-2.3,1.0 -3.6,-1.2" fill="none" stroke="#5c5c5c" stroke-width="0.6" stroke-linecap="round"/>
<path d="M652.2,688.3 q2.9,-0.4 3.6,2.4" fill="none" stroke="#5c5c5c" stroke-width="0.6" stroke-linecap="round"/>
<path d="M665.1,700.8 q1.0,2.3 -1.2,3.6" fill="none" stroke="#5c5c5c" stroke-width="0.6" stroke-linecap="round"/>
<path d="M573.9,691.5 q0.1,-2.3 2.4,-2.4" fill="none" stroke="#5c5c5c" stroke-width="0.6" stroke-linecap="round"/>
<path d="M598.2,678.8 q2.9,-0.4 3.6,2.4" fill="none" stroke="#7a7a7a" stroke-width="0.6" stroke-linecap="round"/>
<path d="M621.8,674.8 q-0.7,2.8 -3.6,2.4" fill="none" stroke="#7a7a7a" stroke-width="0.6" stroke-linecap="round"/>
<path d="M630.2,687.4 q2.3,-1.0 3.6,1.2" fill="none" stroke="#7a7a7a" stroke-width="0.6" stroke-linecap="round"/>
<path d="M589.2,693.2 q0.4,2.9 -2.4,3.6" fill="none" stroke="#7a7a7a" stroke-width="0.6" stroke-linecap="round"/>
<path d="M642.8,695.2 q2.8,0.7 2.4,3.6" fill="none" stroke="#7a7a7a" stroke-width="0.6" stroke-linecap="round"/>
<path d="M606.2,700.6 q1.3,-2.2 3.6,-1.2" fill="none" stroke="#7a7a7a" stroke-width="0.6" stroke-linecap="round"/>
<path d="M623.8,702.8 q2.3,0.1 2.4,2.4" fill="none" stroke="#7a7a7a" stroke-width="0.6" stroke-linecap="round"/>
<line x1="668.5" y1="629.9" x2="668.5" y2="710.5" stroke="#bdbdbd" stroke-width="0.8"/>
<rect x="561.1" y="707.9" width="22.3" height="2.6" fill="#111"/>
<rect x="570.6" y="708.6" width="3" height="1.1" fill="#666"/>
</g>
<clipPath id="c3"><rect x="447.9" y="745" width="108.1" height="80.6"/></clipPath>
<clipPath id="c3l"><circle cx="506.6" cy="823.55" r="40.35"/></clipPath>
<g clip-path="url(#c3)">
<rect x="447.9" y="745" width="108.1" height="80.6" fill="url(#bgv)"/>
<circle cx="506.6" cy="823.55" r="40.35" fill="url(#lawnB)"/>
<g clip-path="url(#c3l)"><rect x="466.25" y="783.1999999999999" width="80.7" height="80.7" filter="url(#grain)" opacity="0.7"/></g>
<circle cx="506.6" cy="823.55" r="39.45" fill="none" stroke="#7a7a7a" stroke-width="1.3" stroke-dasharray="0.9 1.7" opacity="0.55"/>
<circle cx="506.6" cy="823.55" r="37.15" fill="none" stroke="#8a8a8a" stroke-width="1.0" stroke-dasharray="0.7 2.9" opacity="0.45"/>
<path d="M455.7,811.1 q0.7,-2.8 3.6,-2.4" fill="none" stroke="#5c5c5c" stroke-width="0.6" stroke-linecap="round"/>
<path d="M538.7,795.8 q2.8,0.7 2.4,3.6" fill="none" stroke="#5c5c5c" stroke-width="0.6" stroke-linecap="round"/>
<path d="M493.2,798.8 q2.9,-0.4 3.6,2.4" fill="none" stroke="#7a7a7a" stroke-width="0.6" stroke-linecap="round"/>
<path d="M516.8,794.8 q-0.7,2.8 -3.6,2.4" fill="none" stroke="#7a7a7a" stroke-width="0.6" stroke-linecap="round"/>
<path d="M478.8,813.2 q0.1,-2.3 2.4,-2.4" fill="none" stroke="#7a7a7a" stroke-width="0.6" stroke-linecap="round"/>
<path d="M523.2,811.4 q2.3,-1.0 3.6,1.2" fill="none" stroke="#7a7a7a" stroke-width="0.6" stroke-linecap="round"/>
<path d="M506.2,816.8 q-0.1,2.3 -2.4,2.4" fill="none" stroke="#7a7a7a" stroke-width="0.6" stroke-linecap="round"/>
<line x1="555.6" y1="745" x2="555.6" y2="825.6" stroke="#bdbdbd" stroke-width="0.8"/>
<rect x="447.9" y="823.0" width="22.3" height="2.6" fill="#111"/>
<rect x="457.4" y="823.7" width="3" height="1.1" fill="#666"/>
</g>
<clipPath id="c4"><rect x="561.1" y="745" width="107.8" height="80.6"/></clipPath>
<clipPath id="c4l"><circle cx="619.85" cy="823.4" r="41.2"/></clipPath>
<g clip-path="url(#c4)">
<rect x="561.1" y="745" width="107.8" height="80.6" fill="url(#bgv)"/>
<circle cx="619.85" cy="823.4" r="41.2" fill="url(#lawnB)"/>
<g clip-path="url(#c4l)"><rect x="578.65" y="782.1999999999999" width="82.4" height="82.4" filter="url(#grain)" opacity="0.7"/></g>
<circle cx="619.85" cy="823.4" r="40.30" fill="none" stroke="#7a7a7a" stroke-width="1.3" stroke-dasharray="0.9 1.7" opacity="0.55"/>
<circle cx="619.85" cy="823.4" r="38.00" fill="none" stroke="#8a8a8a" stroke-width="1.0" stroke-dasharray="0.7 2.9" opacity="0.45"/>
<path d="M578.7,794.9 q1.6,1.8 0.0,3.6" fill="none" stroke="#5c5c5c" stroke-width="0.6" stroke-linecap="round"/>
<path d="M618.0,774.0 q-1.6,-1.8 0.0,-3.6" fill="none" stroke="#5c5c5c" stroke-width="0.6" stroke-linecap="round"/>
<path d="M658.2,805.8 q2.3,-1.0 3.6,1.2" fill="none" stroke="#5c5c5c" stroke-width="0.6" stroke-linecap="round"/>
<path d="M630.0,783.9 q0.1,-2.3 2.4,-2.4" fill="none" stroke="#5c5c5c" stroke-width="0.6" stroke-linecap="round"/>
<path d="M603.2,798.8 q2.9,-0.4 3.6,2.4" fill="none" stroke="#7a7a7a" stroke-width="0.6" stroke-linecap="round"/>
<path d="M626.8,793.8 q-0.7,2.8 -3.6,2.4" fill="none" stroke="#7a7a7a" stroke-width="0.6" stroke-linecap="round"/>
<path d="M638.8,806.8 q2.3,0.1 2.4,2.4" fill="none" stroke="#7a7a7a" stroke-width="0.6" stroke-linecap="round"/>
<path d="M593.2,812.6 q1.3,-2.2 3.6,-1.2" fill="none" stroke="#7a7a7a" stroke-width="0.6" stroke-linecap="round"/>
<path d="M613.8,813.8 q2.3,0.1 2.4,2.4" fill="none" stroke="#7a7a7a" stroke-width="0.6" stroke-linecap="round"/>
<path d="M633.2,816.8 q-0.1,2.3 -2.4,2.4" fill="none" stroke="#7a7a7a" stroke-width="0.6" stroke-linecap="round"/>
<line x1="668.5" y1="745" x2="668.5" y2="825.6" stroke="#bdbdbd" stroke-width="0.8"/>
<rect x="561.1" y="823.0" width="22.3" height="2.6" fill="#111"/>
<rect x="570.6" y="823.7" width="3" height="1.1" fill="#666"/>
</g>
<text x="502.00" y="625.60" font-size="10" text-anchor="middle" fill="#222" stroke="#222" stroke-width="0.18">ctrl</text>
<text x="613.40" y="625.60" font-size="10" text-anchor="middle" font-style="italic" fill="#222" stroke="#222" stroke-width="0.18">mrps-5</text>
<text x="501.90" y="728.40" font-size="10" text-anchor="middle" font-style="italic" fill="#222" stroke="#222" stroke-width="0.18">mrps-5 +</text>
<text x="501.90" y="741.50" font-size="10" text-anchor="middle" font-style="italic" fill="#222" stroke="#222" stroke-width="0.18">C32E8.9</text>
<text x="612.80" y="728.40" font-size="10" text-anchor="middle" font-style="italic" fill="#222" stroke="#222" stroke-width="0.18">mrps-5 +</text>
<text x="612.80" y="741.50" font-size="10" text-anchor="middle" font-style="italic" fill="#222" stroke="#222" stroke-width="0.18">sma-4</text>
</svg>
</body></html>
